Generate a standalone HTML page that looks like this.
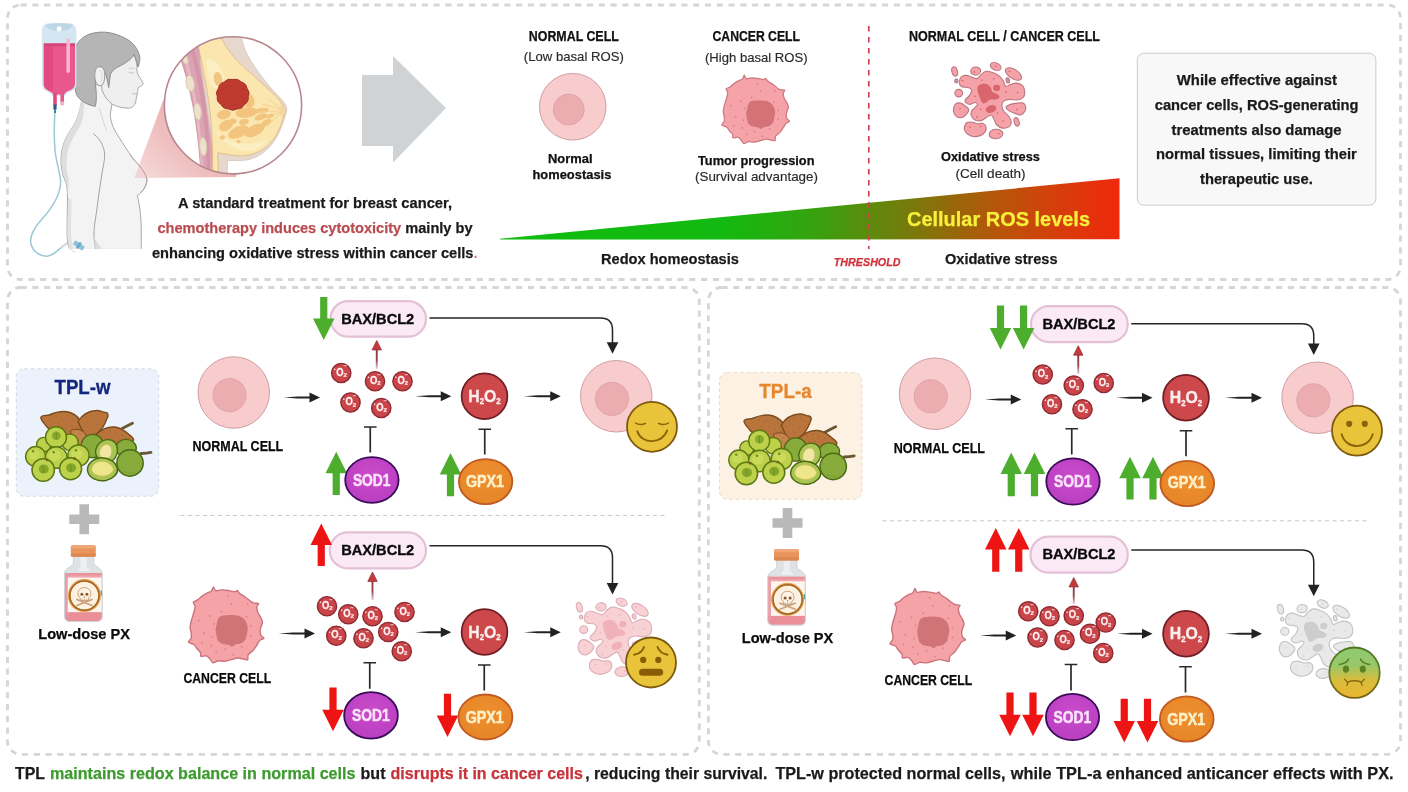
<!DOCTYPE html>
<html lang="en">
<head>
<meta charset="utf-8">
<title>TPL redox balance graphical abstract</title>
<style>
html,body{margin:0;padding:0;background:#fff;}
body{width:1408px;height:792px;overflow:hidden;font-family:"Liberation Sans",sans-serif;}
svg{display:block;}
svg text{font-family:"Liberation Sans",sans-serif;}
</style>
</head>
<body>
<svg width="1408" height="792" viewBox="0 0 1408 792">
<rect width="1408" height="792" fill="#ffffff"/>

<defs>
  <linearGradient id="ros" gradientUnits="userSpaceOnUse" x1="500" y1="0" x2="1119.5" y2="0">
    <stop offset="0" stop-color="#10bd10"/>
    <stop offset="0.36" stop-color="#13b910"/>
    <stop offset="0.5" stop-color="#34a40e"/>
    <stop offset="0.6" stop-color="#5e8a0c"/>
    <stop offset="0.7" stop-color="#88700a"/>
    <stop offset="0.8" stop-color="#b6560a"/>
    <stop offset="0.9" stop-color="#d63e0c"/>
    <stop offset="1" stop-color="#f0280c"/>
  </linearGradient>
  <linearGradient id="beam" gradientUnits="userSpaceOnUse" x1="134" y1="180" x2="215" y2="95">
    <stop offset="0" stop-color="#f3cfcf" stop-opacity="0.75"/>
    <stop offset="0.45" stop-color="#eebbbb" stop-opacity="0.95"/>
    <stop offset="1" stop-color="#e5a0a0"/>
  </linearGradient>
  <linearGradient id="redup" x1="0" y1="0" x2="0" y2="1">
    <stop offset="0" stop-color="#8e3540"/>
    <stop offset="0.6" stop-color="#9a4450"/>
    <stop offset="1" stop-color="#c08890" stop-opacity="0.5"/>
  </linearGradient>
  <linearGradient id="blk" x1="0" y1="0" x2="1" y2="0">
    <stop offset="0" stop-color="#222" stop-opacity="0.35"/>
    <stop offset="0.35" stop-color="#222" stop-opacity="1"/>
    <stop offset="1" stop-color="#222"/>
  </linearGradient>
  <radialGradient id="sod" cx="0.5" cy="0.4" r="0.7">
    <stop offset="0" stop-color="#cb4ccb"/>
    <stop offset="1" stop-color="#b63cc0"/>
  </radialGradient>
  <radialGradient id="gpx" cx="0.5" cy="0.4" r="0.7">
    <stop offset="0" stop-color="#ee8f2e"/>
    <stop offset="1" stop-color="#e58428"/>
  </radialGradient>
  <linearGradient id="sick" x1="0" y1="0" x2="0" y2="1">
    <stop offset="0" stop-color="#8fc872"/>
    <stop offset="0.35" stop-color="#97c86a"/>
    <stop offset="0.65" stop-color="#d8bc3c"/>
    <stop offset="1" stop-color="#ecb530"/>
  </linearGradient>
  <linearGradient id="sickst" x1="0" y1="0" x2="0" y2="1"><stop offset="0" stop-color="#4f7a22"/><stop offset="0.5" stop-color="#5f7a22"/><stop offset="1" stop-color="#7a6414"/></linearGradient>
  <clipPath id="breastclip"><circle cx="233" cy="105.3" r="68.3"/></clipPath>
</defs>

<rect x="7.5" y="5" width="1393.0" height="274.5" rx="13" ry="13" fill="none" stroke="#d6d6d6" stroke-width="2.8" stroke-dasharray="6.2 5.6"/>
<rect x="7.5" y="287.5" width="691.8" height="466.79999999999995" rx="13" ry="13" fill="none" stroke="#d6d6d6" stroke-width="2.8" stroke-dasharray="6.2 5.6"/>
<rect x="708.4" y="287.5" width="692.1" height="466.79999999999995" rx="13" ry="13" fill="none" stroke="#d6d6d6" stroke-width="2.8" stroke-dasharray="6.2 5.6"/>
<polygon points="362,75 393,75 393,56 446,108 393,162.5 393,146 362,146" fill="#cfd3d6"/>
<polygon points="500,238.8 1119.5,178.2 1119.5,239.2 500,239.6" fill="url(#ros)"/>
<line x1="868.8" y1="26" x2="868.8" y2="249" stroke="#d0424f" stroke-width="1.7" stroke-dasharray="5.4 5.6"/>
<text x="907.00" y="226.30" font-size="20.6" font-weight="bold" fill="#f7ef3a" textLength="183.00" lengthAdjust="spacingAndGlyphs" stroke="#f7ef3a" stroke-width="0.25">Cellular ROS levels</text>
<text x="601.00" y="264.00" font-size="15.45" font-weight="bold" fill="#1a1a1a" textLength="137.80" lengthAdjust="spacingAndGlyphs" stroke="#1a1a1a" stroke-width="0.25">Redox homeostasis</text>
<text x="833.80" y="265.80" font-size="10.61" font-weight="bold" font-style="italic" fill="#d2323c" textLength="66.70" lengthAdjust="spacingAndGlyphs" stroke="#d2323c" stroke-width="0.25">THRESHOLD</text>
<text x="945.00" y="263.80" font-size="15.45" font-weight="bold" fill="#1a1a1a" textLength="112.50" lengthAdjust="spacingAndGlyphs" stroke="#1a1a1a" stroke-width="0.25">Oxidative stress</text>
<text x="528.80" y="40.80" font-size="13.8" font-weight="bold" fill="#111" textLength="90.00" lengthAdjust="spacingAndGlyphs" stroke="#111" stroke-width="0.25">NORMAL CELL</text>
<text x="523.80" y="61.00" font-size="12.36" font-weight="normal" fill="#2a2a2a" textLength="100.00" lengthAdjust="spacingAndGlyphs" stroke="#2a2a2a" stroke-width="0.15">(Low basal ROS)</text>
<text x="712.50" y="40.80" font-size="13.8" font-weight="bold" fill="#111" textLength="87.50" lengthAdjust="spacingAndGlyphs" stroke="#111" stroke-width="0.25">CANCER CELL</text>
<text x="705.00" y="62.00" font-size="12.36" font-weight="normal" fill="#2a2a2a" textLength="102.50" lengthAdjust="spacingAndGlyphs" stroke="#2a2a2a" stroke-width="0.15">(High basal ROS)</text>
<text x="909.00" y="40.80" font-size="13.8" font-weight="bold" fill="#111" textLength="191.00" lengthAdjust="spacingAndGlyphs" stroke="#111" stroke-width="0.25">NORMAL CELL / CANCER CELL</text>
<text x="548.00" y="162.50" font-size="12.36" font-weight="bold" fill="#111" textLength="44.50" lengthAdjust="spacingAndGlyphs" stroke="#111" stroke-width="0.25">Normal</text>
<text x="532.50" y="179.00" font-size="12.36" font-weight="bold" fill="#111" textLength="78.80" lengthAdjust="spacingAndGlyphs" stroke="#111" stroke-width="0.25">homeostasis</text>
<text x="698.00" y="165.00" font-size="12.36" font-weight="bold" fill="#111" textLength="116.50" lengthAdjust="spacingAndGlyphs" stroke="#111" stroke-width="0.25">Tumor progression</text>
<text x="695.00" y="181.00" font-size="12.36" font-weight="normal" fill="#2a2a2a" textLength="123.00" lengthAdjust="spacingAndGlyphs" stroke="#2a2a2a" stroke-width="0.15">(Survival advantage)</text>
<text x="941.00" y="161.00" font-size="12.36" font-weight="bold" fill="#111" textLength="99.00" lengthAdjust="spacingAndGlyphs" stroke="#111" stroke-width="0.25">Oxidative stress</text>
<text x="955.50" y="178.00" font-size="12.36" font-weight="normal" fill="#2a2a2a" textLength="70.00" lengthAdjust="spacingAndGlyphs" stroke="#2a2a2a" stroke-width="0.15">(Cell death)</text>
<text x="178.00" y="208.30" font-size="15.45" font-weight="bold" fill="#1a1a1a" textLength="274.00" lengthAdjust="spacingAndGlyphs" stroke="#1a1a1a" stroke-width="0.25">A standard treatment for breast cancer,</text>
<text x="157.5" y="233" font-size="15.45" font-weight="bold" fill="#1a1a1a" stroke="#1a1a1a" stroke-width="0.25" textLength="315" lengthAdjust="spacingAndGlyphs"><tspan fill="#b94c51" stroke="#b94c51">chemotherapy induces cytotoxicity</tspan> mainly by</text>
<text x="152" y="258" font-size="15.45" font-weight="bold" fill="#1a1a1a" stroke="#1a1a1a" stroke-width="0.25" textLength="325.5" lengthAdjust="spacingAndGlyphs">enhancing oxidative stress within cancer cells<tspan fill="#cf7a80" stroke="none">.</tspan></text>
<rect x="1137.3" y="53.2" width="238.6" height="152" rx="6.5" ry="6.5" fill="#f8f8f8" stroke="#cbcbcb" stroke-width="1"/>
<text x="1176.80" y="85.00" font-size="14.63" font-weight="bold" fill="#1a1a1a" textLength="160.20" lengthAdjust="spacingAndGlyphs" stroke="#1a1a1a" stroke-width="0.25">While effective against</text>
<text x="1154.80" y="110.00" font-size="14.63" font-weight="bold" fill="#1a1a1a" textLength="203.70" lengthAdjust="spacingAndGlyphs" stroke="#1a1a1a" stroke-width="0.25">cancer cells, ROS-generating</text>
<text x="1171.50" y="134.50" font-size="14.63" font-weight="bold" fill="#1a1a1a" textLength="170.00" lengthAdjust="spacingAndGlyphs" stroke="#1a1a1a" stroke-width="0.25">treatments also damage</text>
<text x="1156.00" y="159.00" font-size="14.63" font-weight="bold" fill="#1a1a1a" textLength="200.80" lengthAdjust="spacingAndGlyphs" stroke="#1a1a1a" stroke-width="0.25">normal tissues, limiting their</text>
<text x="1200.00" y="183.80" font-size="14.63" font-weight="bold" fill="#1a1a1a" textLength="112.80" lengthAdjust="spacingAndGlyphs" stroke="#1a1a1a" stroke-width="0.25">therapeutic use.</text>
<text x="15.00" y="778.80" font-size="17.0" font-weight="bold" fill="#1a1a1a" textLength="30.00" lengthAdjust="spacingAndGlyphs" stroke="#1a1a1a" stroke-width="0.25">TPL</text>
<text x="50.00" y="778.80" font-size="17.0" font-weight="bold" fill="#3c9a2e" textLength="305.50" lengthAdjust="spacingAndGlyphs" stroke="#3c9a2e" stroke-width="0.25">maintains redox balance in normal cells</text>
<text x="360.50" y="778.80" font-size="17.0" font-weight="bold" fill="#1a1a1a" textLength="25.00" lengthAdjust="spacingAndGlyphs" stroke="#1a1a1a" stroke-width="0.25">but</text>
<text x="390.50" y="778.80" font-size="17.0" font-weight="bold" fill="#c8323a" textLength="192.40" lengthAdjust="spacingAndGlyphs" stroke="#c8323a" stroke-width="0.25">disrupts it in cancer cells</text>
<text x="585.20" y="778.80" font-size="17.0" font-weight="bold" fill="#1a1a1a" textLength="182.20" lengthAdjust="spacingAndGlyphs" stroke="#1a1a1a" stroke-width="0.25">, reducing their survival.</text>
<text x="775.40" y="778.80" font-size="17.0" font-weight="bold" fill="#1a1a1a" textLength="230.10" lengthAdjust="spacingAndGlyphs" stroke="#1a1a1a" stroke-width="0.25">TPL-w protected normal cells,</text>
<text x="1010.80" y="778.80" font-size="17.0" font-weight="bold" fill="#1a1a1a" textLength="382.80" lengthAdjust="spacingAndGlyphs" stroke="#1a1a1a" stroke-width="0.25">while TPL-a enhanced anticancer effects with PX.</text>
<circle cx="572.75" cy="106.75" r="33.3" fill="#f8cbcd" stroke="#cf9ea4" stroke-width="1"/><circle cx="568.74" cy="109.55" r="15.45" fill="#ecadb0" stroke="#dba0a4" stroke-width="0.8"/>
<g transform="translate(755.5,109.4) scale(0.9)"><path d="M-12.49,-38.00 C-11.88,-38.08 -11.45,-34.61 -10.31,-34.20 C-9.17,-33.79 -6.09,-35.04 -4.34,-35.07 C-2.60,-35.10 0.35,-34.69 2.17,-34.42 C4.00,-34.15 7.39,-33.12 8.69,-33.12 C9.98,-33.12 10.72,-34.65 11.40,-34.42 C12.08,-34.19 12.43,-32.43 13.57,-31.49 C14.71,-30.55 17.95,-28.83 19.54,-27.69 C21.14,-26.55 23.76,-24.18 24.97,-23.34 C26.19,-22.51 27.17,-21.99 28.23,-21.72 C29.29,-21.44 32.19,-21.85 32.57,-21.39 C32.95,-20.93 31.10,-19.55 30.94,-18.46 C30.79,-17.36 31.11,-14.86 31.49,-13.57 C31.87,-12.28 33.05,-10.37 33.66,-9.23 C34.27,-8.09 35.45,-6.49 35.83,-5.43 C36.21,-4.36 36.53,-2.77 36.37,-1.63 C36.22,-0.49 35.05,1.50 34.74,2.71 C34.44,3.93 34.13,5.92 34.20,7.06 C34.28,8.20 34.76,9.98 35.29,10.86 C35.82,11.74 38.15,12.75 38.00,13.36 C37.85,13.96 35.19,14.26 34.20,15.20 C33.21,16.14 31.93,18.64 30.94,20.09 C29.96,21.53 28.36,24.15 27.14,25.52 C25.93,26.88 23.02,28.57 22.26,29.86 C21.50,31.15 22.32,34.14 21.72,34.74 C21.11,35.35 19.28,34.43 17.92,34.20 C16.55,33.97 13.69,33.04 11.94,33.12 C10.20,33.19 7.25,34.29 5.43,34.74 C3.60,35.20 0.74,36.22 -1.09,36.37 C-2.91,36.53 -5.93,35.60 -7.60,35.83 C-9.27,36.06 -11.89,38.23 -13.03,38.00 C-14.17,37.77 -14.83,35.19 -15.74,34.20 C-16.66,33.21 -18.25,31.32 -19.54,30.94 C-20.84,30.56 -24.14,31.94 -24.97,31.49 C-25.81,31.03 -24.91,28.83 -25.52,27.69 C-26.12,26.55 -28.40,24.48 -29.32,23.34 C-30.23,22.20 -30.89,20.38 -32.03,19.54 C-33.17,18.71 -37.08,18.28 -37.46,17.37 C-37.84,16.46 -35.12,14.32 -34.74,13.03 C-34.36,11.74 -34.59,9.59 -34.74,8.14 C-34.90,6.70 -35.83,4.39 -35.83,2.71 C-35.83,1.04 -35.12,-2.13 -34.74,-3.80 C-34.36,-5.47 -33.57,-7.71 -33.12,-9.23 C-32.66,-10.75 -31.79,-13.29 -31.49,-14.66 C-31.18,-16.03 -30.79,-17.86 -30.94,-19.00 C-31.10,-20.14 -32.95,-21.97 -32.57,-22.80 C-32.19,-23.64 -29.45,-24.14 -28.23,-24.97 C-27.01,-25.81 -25.26,-27.79 -23.89,-28.77 C-22.52,-29.76 -19.75,-31.35 -18.46,-32.03 C-17.17,-32.71 -15.49,-32.82 -14.66,-33.66 C-13.82,-34.50 -13.09,-37.93 -12.49,-38.00 Z" fill="#f5a3a8" stroke="#cd7780" stroke-width="1.4" stroke-linejoin="round"/><circle cx="2.17" cy="-28.77" r="0.95" fill="#e07c85"/><circle cx="5.43" cy="-20.63" r="0.95" fill="#e07c85"/><circle cx="21.72" cy="-20.63" r="0.95" fill="#e07c85"/><circle cx="-4.34" cy="-13.36" r="0.95" fill="#e07c85"/><circle cx="-16.29" cy="-9.01" r="0.95" fill="#e07c85"/><circle cx="20.63" cy="-8.14" r="0.95" fill="#e07c85"/><circle cx="-27.14" cy="-4.34" r="0.95" fill="#e07c85"/><circle cx="-11.94" cy="-1.09" r="0.95" fill="#e07c85"/><circle cx="24.97" cy="1.09" r="0.95" fill="#e07c85"/><circle cx="-22.26" cy="8.14" r="0.95" fill="#e07c85"/><circle cx="-13.57" cy="11.94" r="0.95" fill="#e07c85"/><circle cx="24.97" cy="10.86" r="0.95" fill="#e07c85"/><circle cx="-23.89" cy="17.92" r="0.95" fill="#e07c85"/><circle cx="-14.66" cy="20.63" r="0.95" fill="#e07c85"/><circle cx="15.74" cy="21.72" r="0.95" fill="#e07c85"/><circle cx="-1.09" cy="24.43" r="0.95" fill="#e07c85"/><circle cx="-9.77" cy="27.69" r="0.95" fill="#e07c85"/><circle cx="7.60" cy="29.86" r="0.95" fill="#e07c85"/><path d="M-8.14,-5.43 C-7.51,-6.79 -6.97,-7.96 -5.43,-8.69 C-3.89,-9.41 -1.27,-9.59 1.09,-9.77 C3.44,-9.95 6.51,-9.95 8.69,-9.77 C10.86,-9.59 12.49,-9.41 14.12,-8.69 C15.74,-7.96 17.28,-6.79 18.46,-5.43 C19.63,-4.07 20.63,-2.26 21.17,-0.54 C21.72,1.18 21.81,3.08 21.72,4.89 C21.63,6.70 20.99,8.69 20.63,10.31 C20.27,11.94 20.45,13.30 19.54,14.66 C18.64,16.02 16.83,17.64 15.20,18.46 C13.57,19.27 11.31,19.00 9.77,19.54 C8.23,20.09 7.06,21.63 5.97,21.72 C4.89,21.81 4.80,20.54 3.26,20.09 C1.72,19.63 -1.45,19.63 -3.26,19.00 C-5.07,18.37 -6.61,17.55 -7.60,16.29 C-8.60,15.02 -8.78,13.30 -9.23,11.40 C-9.68,9.50 -10.31,6.88 -10.31,4.89 C-10.31,2.90 -9.59,1.18 -9.23,-0.54 C-8.87,-2.26 -8.78,-4.07 -8.14,-5.43 Z" fill="#d37378"/></g>
<g transform="translate(989.4,100) scale(1.0)" stroke-linejoin="round"><ellipse cx="-34.75" cy="-28.50" rx="2.75" ry="4.75" transform="rotate(-15 -34.75 -28.50)" fill="#f5a1a8" stroke="#bb7680" stroke-width="1.1"/><ellipse cx="-13.75" cy="-29.00" rx="5.00" ry="4.00" transform="rotate(-8 -13.75 -29.00)" fill="#f5a1a8" stroke="#bb7680" stroke-width="1.1"/><ellipse cx="6.25" cy="-33.50" rx="5.62" ry="3.62" transform="rotate(25 6.25 -33.50)" fill="#f5a1a8" stroke="#bb7680" stroke-width="1.1"/><ellipse cx="24.12" cy="-26.00" rx="9.12" ry="4.62" transform="rotate(33 24.12 -26.00)" fill="#f5a1a8" stroke="#bb7680" stroke-width="1.1"/><ellipse cx="-33.12" cy="-19.00" rx="1.62" ry="1.88" transform="rotate(0 -33.12 -19.00)" fill="#c99aa2" stroke="#bb7680" stroke-width="1.1"/><ellipse cx="18.38" cy="-19.62" rx="1.75" ry="2.62" transform="rotate(-10 18.38 -19.62)" fill="#c99aa2" stroke="#bb7680" stroke-width="1.1"/><ellipse cx="-30.62" cy="-6.88" rx="3.88" ry="3.75" transform="rotate(0 -30.62 -6.88)" fill="#f5a1a8" stroke="#bb7680" stroke-width="1.1"/><ellipse cx="6.62" cy="34.00" rx="6.88" ry="4.75" transform="rotate(-5 6.62 34.00)" fill="#f5a1a8" stroke="#bb7680" stroke-width="1.1"/><ellipse cx="27.25" cy="21.88" rx="2.38" ry="4.38" transform="rotate(-18 27.25 21.88)" fill="#f5a1a8" stroke="#bb7680" stroke-width="1.1"/><path d="M-35.88,8.75 C-35.60,7.23 -34.94,4.94 -33.75,4.00 C-32.56,3.06 -30.42,2.75 -28.75,3.12 C-27.08,3.50 -25.10,5.15 -23.75,6.25 C-22.40,7.35 -20.73,8.40 -20.62,9.75 C-20.52,11.10 -21.98,13.08 -23.12,14.38 C-24.27,15.67 -25.94,17.08 -27.50,17.50 C-29.06,17.92 -31.19,17.60 -32.50,16.88 C-33.81,16.15 -34.81,14.48 -35.38,13.12 C-35.94,11.77 -36.15,10.27 -35.88,8.75 Z" fill="#f5a1a8" stroke="#bb7680" stroke-width="1.1"/><path d="M-25.00,26.88 C-24.65,25.52 -23.85,23.27 -22.50,22.50 C-21.15,21.73 -18.65,22.04 -16.88,22.25 C-15.10,22.46 -13.65,23.54 -11.88,23.75 C-10.10,23.96 -7.67,22.98 -6.25,23.50 C-4.83,24.02 -3.69,25.48 -3.38,26.88 C-3.06,28.27 -3.38,30.42 -4.38,31.88 C-5.38,33.33 -7.40,34.85 -9.38,35.62 C-11.35,36.40 -14.17,36.77 -16.25,36.50 C-18.33,36.23 -20.48,34.98 -21.88,34.00 C-23.27,33.02 -24.10,31.81 -24.62,30.62 C-25.15,29.44 -25.35,28.23 -25.00,26.88 Z" fill="#f5a1a8" stroke="#bb7680" stroke-width="1.1"/><path d="M16.62,6.88 C16.94,5.83 19.33,5.00 21.25,4.38 C23.17,3.75 26.04,3.33 28.12,3.12 C30.21,2.92 32.40,2.50 33.75,3.12 C35.10,3.75 36.04,5.42 36.25,6.88 C36.46,8.33 35.94,10.52 35.00,11.88 C34.06,13.23 32.29,14.79 30.62,15.00 C28.96,15.21 26.88,13.85 25.00,13.12 C23.12,12.40 20.77,11.67 19.38,10.62 C17.98,9.58 16.31,7.92 16.62,6.88 Z" fill="#f5a1a8" stroke="#bb7680" stroke-width="1.1"/><path d="M-30.00,-18.75 C-29.73,-20.00 -29.27,-22.15 -28.12,-23.12 C-26.98,-24.10 -25.00,-24.73 -23.12,-24.62 C-21.25,-24.52 -18.75,-23.02 -16.88,-22.50 C-15.00,-21.98 -13.33,-20.98 -11.88,-21.50 C-10.42,-22.02 -9.58,-24.42 -8.12,-25.62 C-6.67,-26.83 -5.00,-28.44 -3.12,-28.75 C-1.25,-29.06 1.04,-28.23 3.12,-27.50 C5.21,-26.77 7.60,-25.73 9.38,-24.38 C11.15,-23.02 12.60,-21.15 13.75,-19.38 C14.90,-17.60 15.10,-14.44 16.25,-13.75 C17.40,-13.06 18.85,-14.73 20.62,-15.25 C22.40,-15.77 24.79,-17.02 26.88,-16.88 C28.96,-16.73 31.71,-15.83 33.12,-14.38 C34.54,-12.92 35.27,-10.10 35.38,-8.12 C35.48,-6.15 34.96,-3.85 33.75,-2.50 C32.54,-1.15 30.31,-0.31 28.12,0.00 C25.94,0.31 22.81,-0.73 20.62,-0.62 C18.44,-0.52 16.35,-0.31 15.00,0.62 C13.65,1.56 12.60,3.23 12.50,5.00 C12.40,6.77 13.23,9.38 14.38,11.25 C15.52,13.12 18.12,14.38 19.38,16.25 C20.62,18.12 21.88,20.73 21.88,22.50 C21.88,24.27 20.83,25.94 19.38,26.88 C17.92,27.81 15.10,28.44 13.12,28.12 C11.15,27.81 8.96,26.56 7.50,25.00 C6.04,23.44 5.31,20.42 4.38,18.75 C3.44,17.08 3.12,15.21 1.88,15.00 C0.62,14.79 -1.46,16.56 -3.12,17.50 C-4.79,18.44 -6.25,20.21 -8.12,20.62 C-10.00,21.04 -12.71,20.83 -14.38,20.00 C-16.04,19.17 -17.54,17.08 -18.12,15.62 C-18.71,14.17 -18.50,12.60 -17.88,11.25 C-17.25,9.90 -15.38,8.65 -14.38,7.50 C-13.38,6.35 -11.88,5.21 -11.88,4.38 C-11.88,3.54 -13.12,2.50 -14.38,2.50 C-15.62,2.50 -17.81,4.38 -19.38,4.38 C-20.94,4.38 -23.02,3.33 -23.75,2.50 C-24.48,1.67 -24.38,0.52 -23.75,-0.62 C-23.12,-1.77 -20.98,-2.81 -20.00,-4.38 C-19.02,-5.94 -17.67,-8.65 -17.88,-10.00 C-18.08,-11.35 -19.75,-11.98 -21.25,-12.50 C-22.75,-13.02 -25.46,-12.60 -26.88,-13.12 C-28.29,-13.65 -29.23,-14.69 -29.75,-15.62 C-30.27,-16.56 -30.27,-17.50 -30.00,-18.75 Z" fill="#f5a1a8" stroke="#bb7680" stroke-width="1.1"/><path d="M-11.88,-12.50 C-11.56,-13.96 -10.83,-15.04 -9.38,-15.62 C-7.92,-16.21 -4.90,-16.52 -3.12,-16.00 C-1.35,-15.48 0.21,-13.81 1.25,-12.50 C2.29,-11.19 2.08,-9.17 3.12,-8.12 C4.17,-7.08 6.35,-7.08 7.50,-6.25 C8.65,-5.42 10.10,-4.06 10.00,-3.12 C9.90,-2.19 8.44,-1.10 6.88,-0.62 C5.31,-0.15 2.29,-0.77 0.62,-0.25 C-1.04,0.27 -1.88,1.94 -3.12,2.50 C-4.38,3.06 -5.83,3.85 -6.88,3.12 C-7.92,2.40 -8.65,-0.21 -9.38,-1.88 C-10.10,-3.54 -10.83,-5.10 -11.25,-6.88 C-11.67,-8.65 -12.19,-11.04 -11.88,-12.50 Z" fill="#d9666f"/><ellipse cx="7.25" cy="-12.1" rx="3.5" ry="3.1" fill="#d9666f"/><ellipse cx="1.6" cy="9" rx="5.4" ry="3.8" transform="rotate(-18 1.6 9)" fill="#d9666f"/><circle cx="-15.00" cy="-28.12" r="0.85" fill="#e0646f"/><circle cx="6.25" cy="-33.75" r="0.85" fill="#e0646f"/><circle cx="20.00" cy="-28.75" r="0.85" fill="#e0646f"/><circle cx="28.12" cy="-7.50" r="0.85" fill="#e0646f"/><circle cx="27.50" cy="9.38" r="0.85" fill="#e0646f"/><circle cx="13.75" cy="21.00" r="0.85" fill="#e0646f"/><circle cx="9.38" cy="33.50" r="0.85" fill="#e0646f"/><circle cx="-19.38" cy="27.25" r="0.85" fill="#e0646f"/><circle cx="-8.75" cy="26.50" r="0.85" fill="#e0646f"/><circle cx="-29.38" cy="8.75" r="0.85" fill="#e0646f"/><circle cx="-12.50" cy="16.88" r="0.85" fill="#e0646f"/><circle cx="4.38" cy="-21.25" r="0.85" fill="#e0646f"/><circle cx="-7.50" cy="-20.00" r="0.85" fill="#e0646f"/><circle cx="-14.38" cy="-3.75" r="0.85" fill="#e0646f"/><circle cx="16.88" cy="-8.12" r="0.85" fill="#e0646f"/><circle cx="8.12" cy="13.12" r="0.85" fill="#e0646f"/><circle cx="-26.88" cy="-19.38" r="0.85" fill="#e0646f"/><circle cx="-8.75" cy="9.38" r="0.85" fill="#e0646f"/></g>
<circle cx="233.75" cy="392.5" r="35.75" fill="#f8cbcd" stroke="#cf9ea4" stroke-width="1"/><circle cx="229.50" cy="395.10" r="16.60" fill="#ecadb0" stroke="#dba0a4" stroke-width="0.8"/>
<text x="192.50" y="451.00" font-size="14.42" font-weight="bold" fill="#0a0a0a" textLength="90.75" lengthAdjust="spacingAndGlyphs" stroke="#0a0a0a" stroke-width="0.25">NORMAL CELL</text>
<polygon points="283.75,397.5 297.75,396.6 310.5,396.5 310.5,398.5 297.75,398.4" fill="#222"/><polygon points="309.5,392.6 320,397.5 309.5,402.4" fill="#222"/>
<rect x="330.5" y="301.2" width="95.5" height="35.4" rx="17.7" ry="17.7" fill="#fbeaf6" stroke="#e3c0d6" stroke-width="2.2"/><text x="341.25" y="323.75" font-size="14.7" font-weight="bold" fill="#0a0a0a" textLength="73.00" lengthAdjust="spacingAndGlyphs" stroke="#0a0a0a" stroke-width="0.35">BAX/BCL2</text>
<polygon points="320.15,297 327.35,297 327.35,318.5 334.5,318.5 323.75,340 313.0,318.5 320.15,318.5" fill="#4cae2c"/>
<path d="M429.5,318 H600.5 Q612.5,318 612.5,330 V343.25" fill="none" stroke="#262626" stroke-width="1.5"/><polygon points="606.7,342.25 618.3,342.25 612.5,353.75" fill="#222"/>
<rect x="375.8" y="347.9" width="1.9" height="20.850000000000023" fill="url(#redup)"/><polygon points="372.05,349.9 376.75,340.5 381.45,349.9" fill="#c63a3c" stroke="#93303a" stroke-width="0.8" stroke-linejoin="round"/>
<g><circle cx="341.25" cy="373" r="9.65" fill="#c9454a" stroke="#8e2a30" stroke-width="1.4"/><text x="336.25" y="375.60" font-size="10.6" font-weight="bold" fill="#fff2f2" stroke="#fff2f2" stroke-width="0.3" textLength="7.3" lengthAdjust="spacingAndGlyphs">O</text><text x="343.55" y="377.20" font-size="5.9" font-weight="bold" fill="#fff2f2" stroke="#fff2f2" stroke-width="0.2">2</text><text x="333.75" y="371.00" font-size="5" font-weight="bold" fill="#fff2f2">&#8226;</text><text x="343.55" y="368.40" font-size="6" font-weight="bold" fill="#fff2f2">&#8722;</text></g>
<g><circle cx="375" cy="381.25" r="9.65" fill="#c9454a" stroke="#8e2a30" stroke-width="1.4"/><text x="370.00" y="383.85" font-size="10.6" font-weight="bold" fill="#fff2f2" stroke="#fff2f2" stroke-width="0.3" textLength="7.3" lengthAdjust="spacingAndGlyphs">O</text><text x="377.30" y="385.45" font-size="5.9" font-weight="bold" fill="#fff2f2" stroke="#fff2f2" stroke-width="0.2">2</text><text x="367.50" y="379.25" font-size="5" font-weight="bold" fill="#fff2f2">&#8226;</text><text x="377.30" y="376.65" font-size="6" font-weight="bold" fill="#fff2f2">&#8722;</text></g>
<g><circle cx="402.5" cy="381.25" r="9.65" fill="#c9454a" stroke="#8e2a30" stroke-width="1.4"/><text x="397.50" y="383.85" font-size="10.6" font-weight="bold" fill="#fff2f2" stroke="#fff2f2" stroke-width="0.3" textLength="7.3" lengthAdjust="spacingAndGlyphs">O</text><text x="404.80" y="385.45" font-size="5.9" font-weight="bold" fill="#fff2f2" stroke="#fff2f2" stroke-width="0.2">2</text><text x="395.00" y="379.25" font-size="5" font-weight="bold" fill="#fff2f2">&#8226;</text><text x="404.80" y="376.65" font-size="6" font-weight="bold" fill="#fff2f2">&#8722;</text></g>
<g><circle cx="350.5" cy="402.5" r="9.65" fill="#c9454a" stroke="#8e2a30" stroke-width="1.4"/><text x="345.50" y="405.10" font-size="10.6" font-weight="bold" fill="#fff2f2" stroke="#fff2f2" stroke-width="0.3" textLength="7.3" lengthAdjust="spacingAndGlyphs">O</text><text x="352.80" y="406.70" font-size="5.9" font-weight="bold" fill="#fff2f2" stroke="#fff2f2" stroke-width="0.2">2</text><text x="343.00" y="400.50" font-size="5" font-weight="bold" fill="#fff2f2">&#8226;</text><text x="352.80" y="397.90" font-size="6" font-weight="bold" fill="#fff2f2">&#8722;</text></g>
<g><circle cx="381.25" cy="408" r="9.65" fill="#c9454a" stroke="#8e2a30" stroke-width="1.4"/><text x="376.25" y="410.60" font-size="10.6" font-weight="bold" fill="#fff2f2" stroke="#fff2f2" stroke-width="0.3" textLength="7.3" lengthAdjust="spacingAndGlyphs">O</text><text x="383.55" y="412.20" font-size="5.9" font-weight="bold" fill="#fff2f2" stroke="#fff2f2" stroke-width="0.2">2</text><text x="373.75" y="406.00" font-size="5" font-weight="bold" fill="#fff2f2">&#8226;</text><text x="383.55" y="403.40" font-size="6" font-weight="bold" fill="#fff2f2">&#8722;</text></g>
<polygon points="415,396.25 429,395.35 441.75,395.25 441.75,397.25 429,397.15" fill="#222"/><polygon points="440.75,391.35 451.25,396.25 440.75,401.15" fill="#222"/>
<circle cx="484.5" cy="396.25" r="22.9" fill="#cc484b" stroke="#701e24" stroke-width="1.7"/><text x="468.30" y="401.85" font-size="17" font-weight="bold" fill="#fdeeee" stroke="#fdeeee" stroke-width="0.35" textLength="32.4" lengthAdjust="spacingAndGlyphs">H<tspan font-size="8.4" dy="2.3">2</tspan><tspan dy="-2.3">O</tspan><tspan font-size="8.4" dy="2.3">2</tspan></text>
<polygon points="523.75,396.25 537.75,395.35 551.25,395.25 551.25,397.25 537.75,397.15" fill="#222"/><polygon points="550.25,391.35 560.75,396.25 550.25,401.15" fill="#222"/>
<circle cx="616.25" cy="396.25" r="35.75" fill="#f8cbcd" stroke="#cf9ea4" stroke-width="1"/><circle cx="612.00" cy="398.85" r="16.60" fill="#ecadb0" stroke="#dba0a4" stroke-width="0.8"/>
<g><circle cx="652" cy="426.8" r="25.0" fill="#e9c33a" stroke="#7c5a0e" stroke-width="1.8"/><g transform="translate(652,426.8)" fill="none" stroke="#8a6408" stroke-width="1.5" stroke-linecap="round"><path d="M-16.5,-3.6 Q-11.5,-1 -6.5,-3.4"/><path d="M6.5,-3.4 Q11.5,-1 16.5,-3.6"/><path d="M-14.8,4.3 C-10.5,17.8 10.5,17.8 15.2,3.5" stroke-width="1.9"/></g></g>
<path d="M363.95,427 H376.55 M370.25,427 V452.5" fill="none" stroke="#2a2a2a" stroke-width="1.7"/>
<path d="M478.45,429.25 H491.05 M484.75,429.25 V454.5" fill="none" stroke="#2a2a2a" stroke-width="1.7"/>
<polygon points="332.65,495 339.85,495 339.85,473.25 347.0,473.25 336.25,451.75 325.5,473.25 332.65,473.25" fill="#4cae2c"/>
<polygon points="446.9,496.25 454.1,496.25 454.1,474.5 461.25,474.5 450.5,453 439.75,474.5 446.9,474.5" fill="#4cae2c"/>
<ellipse cx="371.9" cy="480" rx="26.700000000000003" ry="22.85" fill="url(#sod)" stroke="#3b0c58" stroke-width="1.8"/><text x="352.90" y="485.50" font-size="16.3" font-weight="bold" fill="#fbe3fb" textLength="37.60" lengthAdjust="spacingAndGlyphs" stroke="#fbe3fb" stroke-width="0.5">SOD1</text>
<ellipse cx="485.6" cy="481.6" rx="26.700000000000003" ry="22.5" fill="url(#gpx)" stroke="#bf5a22" stroke-width="1.8"/><text x="466.00" y="487.00" font-size="16.3" font-weight="bold" fill="#fdf0c8" textLength="38.00" lengthAdjust="spacingAndGlyphs" stroke="#fdf0c8" stroke-width="0.5">GPX1</text>
<line x1="180.5" y1="515.5" x2="667" y2="515.5" stroke="#c9c9c9" stroke-width="1" stroke-dasharray="4 3.5"/>
<g transform="translate(225.95,624.9) scale(1.0)"><path d="M-12.49,-38.00 C-11.88,-38.08 -11.45,-34.61 -10.31,-34.20 C-9.17,-33.79 -6.09,-35.04 -4.34,-35.07 C-2.60,-35.10 0.35,-34.69 2.17,-34.42 C4.00,-34.15 7.39,-33.12 8.69,-33.12 C9.98,-33.12 10.72,-34.65 11.40,-34.42 C12.08,-34.19 12.43,-32.43 13.57,-31.49 C14.71,-30.55 17.95,-28.83 19.54,-27.69 C21.14,-26.55 23.76,-24.18 24.97,-23.34 C26.19,-22.51 27.17,-21.99 28.23,-21.72 C29.29,-21.44 32.19,-21.85 32.57,-21.39 C32.95,-20.93 31.10,-19.55 30.94,-18.46 C30.79,-17.36 31.11,-14.86 31.49,-13.57 C31.87,-12.28 33.05,-10.37 33.66,-9.23 C34.27,-8.09 35.45,-6.49 35.83,-5.43 C36.21,-4.36 36.53,-2.77 36.37,-1.63 C36.22,-0.49 35.05,1.50 34.74,2.71 C34.44,3.93 34.13,5.92 34.20,7.06 C34.28,8.20 34.76,9.98 35.29,10.86 C35.82,11.74 38.15,12.75 38.00,13.36 C37.85,13.96 35.19,14.26 34.20,15.20 C33.21,16.14 31.93,18.64 30.94,20.09 C29.96,21.53 28.36,24.15 27.14,25.52 C25.93,26.88 23.02,28.57 22.26,29.86 C21.50,31.15 22.32,34.14 21.72,34.74 C21.11,35.35 19.28,34.43 17.92,34.20 C16.55,33.97 13.69,33.04 11.94,33.12 C10.20,33.19 7.25,34.29 5.43,34.74 C3.60,35.20 0.74,36.22 -1.09,36.37 C-2.91,36.53 -5.93,35.60 -7.60,35.83 C-9.27,36.06 -11.89,38.23 -13.03,38.00 C-14.17,37.77 -14.83,35.19 -15.74,34.20 C-16.66,33.21 -18.25,31.32 -19.54,30.94 C-20.84,30.56 -24.14,31.94 -24.97,31.49 C-25.81,31.03 -24.91,28.83 -25.52,27.69 C-26.12,26.55 -28.40,24.48 -29.32,23.34 C-30.23,22.20 -30.89,20.38 -32.03,19.54 C-33.17,18.71 -37.08,18.28 -37.46,17.37 C-37.84,16.46 -35.12,14.32 -34.74,13.03 C-34.36,11.74 -34.59,9.59 -34.74,8.14 C-34.90,6.70 -35.83,4.39 -35.83,2.71 C-35.83,1.04 -35.12,-2.13 -34.74,-3.80 C-34.36,-5.47 -33.57,-7.71 -33.12,-9.23 C-32.66,-10.75 -31.79,-13.29 -31.49,-14.66 C-31.18,-16.03 -30.79,-17.86 -30.94,-19.00 C-31.10,-20.14 -32.95,-21.97 -32.57,-22.80 C-32.19,-23.64 -29.45,-24.14 -28.23,-24.97 C-27.01,-25.81 -25.26,-27.79 -23.89,-28.77 C-22.52,-29.76 -19.75,-31.35 -18.46,-32.03 C-17.17,-32.71 -15.49,-32.82 -14.66,-33.66 C-13.82,-34.50 -13.09,-37.93 -12.49,-38.00 Z" fill="#f5a3a7" stroke="#c8747d" stroke-width="1.4" stroke-linejoin="round"/><circle cx="2.17" cy="-28.77" r="0.95" fill="#e0808a"/><circle cx="5.43" cy="-20.63" r="0.95" fill="#e0808a"/><circle cx="21.72" cy="-20.63" r="0.95" fill="#e0808a"/><circle cx="-4.34" cy="-13.36" r="0.95" fill="#e0808a"/><circle cx="-16.29" cy="-9.01" r="0.95" fill="#e0808a"/><circle cx="20.63" cy="-8.14" r="0.95" fill="#e0808a"/><circle cx="-27.14" cy="-4.34" r="0.95" fill="#e0808a"/><circle cx="-11.94" cy="-1.09" r="0.95" fill="#e0808a"/><circle cx="24.97" cy="1.09" r="0.95" fill="#e0808a"/><circle cx="-22.26" cy="8.14" r="0.95" fill="#e0808a"/><circle cx="-13.57" cy="11.94" r="0.95" fill="#e0808a"/><circle cx="24.97" cy="10.86" r="0.95" fill="#e0808a"/><circle cx="-23.89" cy="17.92" r="0.95" fill="#e0808a"/><circle cx="-14.66" cy="20.63" r="0.95" fill="#e0808a"/><circle cx="15.74" cy="21.72" r="0.95" fill="#e0808a"/><circle cx="-1.09" cy="24.43" r="0.95" fill="#e0808a"/><circle cx="-9.77" cy="27.69" r="0.95" fill="#e0808a"/><circle cx="7.60" cy="29.86" r="0.95" fill="#e0808a"/><path d="M-8.14,-5.43 C-7.51,-6.79 -6.97,-7.96 -5.43,-8.69 C-3.89,-9.41 -1.27,-9.59 1.09,-9.77 C3.44,-9.95 6.51,-9.95 8.69,-9.77 C10.86,-9.59 12.49,-9.41 14.12,-8.69 C15.74,-7.96 17.28,-6.79 18.46,-5.43 C19.63,-4.07 20.63,-2.26 21.17,-0.54 C21.72,1.18 21.81,3.08 21.72,4.89 C21.63,6.70 20.99,8.69 20.63,10.31 C20.27,11.94 20.45,13.30 19.54,14.66 C18.64,16.02 16.83,17.64 15.20,18.46 C13.57,19.27 11.31,19.00 9.77,19.54 C8.23,20.09 7.06,21.63 5.97,21.72 C4.89,21.81 4.80,20.54 3.26,20.09 C1.72,19.63 -1.45,19.63 -3.26,19.00 C-5.07,18.37 -6.61,17.55 -7.60,16.29 C-8.60,15.02 -8.78,13.30 -9.23,11.40 C-9.68,9.50 -10.31,6.88 -10.31,4.89 C-10.31,2.90 -9.59,1.18 -9.23,-0.54 C-8.87,-2.26 -8.78,-4.07 -8.14,-5.43 Z" fill="#d17477"/></g>
<text x="183.40" y="682.80" font-size="14.42" font-weight="bold" fill="#0a0a0a" textLength="87.80" lengthAdjust="spacingAndGlyphs" stroke="#0a0a0a" stroke-width="0.25">CANCER CELL</text>
<polygon points="278.75,633.5 292.75,632.6 305.5,632.5 305.5,634.5 292.75,634.4" fill="#222"/><polygon points="304.5,628.6 315,633.5 304.5,638.4" fill="#222"/>
<rect x="329.75" y="532.45" width="96.25" height="35.9" rx="17.95" ry="17.95" fill="#fbeaf6" stroke="#e3c0d6" stroke-width="2.2"/><text x="341.25" y="555.00" font-size="14.7" font-weight="bold" fill="#0a0a0a" textLength="73.00" lengthAdjust="spacingAndGlyphs" stroke="#0a0a0a" stroke-width="0.35">BAX/BCL2</text>
<polygon points="317.65,566 324.85,566 324.85,545.0 332.0,545.0 321.25,523.5 310.5,545.0 317.65,545.0" fill="#ee1414"/>
<path d="M429.5,545.75 H600.5 Q612.5,545.75 612.5,557.75 V584.0" fill="none" stroke="#262626" stroke-width="1.5"/><polygon points="606.7,583.0 618.3,583.0 612.5,594.5" fill="#222"/>
<rect x="371.55" y="579.4" width="1.9" height="20.600000000000023" fill="url(#redup)"/><polygon points="367.8,581.4 372.5,572.0 377.2,581.4" fill="#c63a3c" stroke="#93303a" stroke-width="0.8" stroke-linejoin="round"/>
<g><circle cx="327" cy="606.25" r="9.65" fill="#c9454a" stroke="#8e2a30" stroke-width="1.4"/><text x="322.00" y="608.85" font-size="10.6" font-weight="bold" fill="#fff2f2" stroke="#fff2f2" stroke-width="0.3" textLength="7.3" lengthAdjust="spacingAndGlyphs">O</text><text x="329.30" y="610.45" font-size="5.9" font-weight="bold" fill="#fff2f2" stroke="#fff2f2" stroke-width="0.2">2</text><text x="319.50" y="604.25" font-size="5" font-weight="bold" fill="#fff2f2">&#8226;</text><text x="329.30" y="601.65" font-size="6" font-weight="bold" fill="#fff2f2">&#8722;</text></g>
<g><circle cx="348.25" cy="614.25" r="9.65" fill="#c9454a" stroke="#8e2a30" stroke-width="1.4"/><text x="343.25" y="616.85" font-size="10.6" font-weight="bold" fill="#fff2f2" stroke="#fff2f2" stroke-width="0.3" textLength="7.3" lengthAdjust="spacingAndGlyphs">O</text><text x="350.55" y="618.45" font-size="5.9" font-weight="bold" fill="#fff2f2" stroke="#fff2f2" stroke-width="0.2">2</text><text x="340.75" y="612.25" font-size="5" font-weight="bold" fill="#fff2f2">&#8226;</text><text x="350.55" y="609.65" font-size="6" font-weight="bold" fill="#fff2f2">&#8722;</text></g>
<g><circle cx="372.5" cy="616.25" r="9.65" fill="#c9454a" stroke="#8e2a30" stroke-width="1.4"/><text x="367.50" y="618.85" font-size="10.6" font-weight="bold" fill="#fff2f2" stroke="#fff2f2" stroke-width="0.3" textLength="7.3" lengthAdjust="spacingAndGlyphs">O</text><text x="374.80" y="620.45" font-size="5.9" font-weight="bold" fill="#fff2f2" stroke="#fff2f2" stroke-width="0.2">2</text><text x="365.00" y="614.25" font-size="5" font-weight="bold" fill="#fff2f2">&#8226;</text><text x="374.80" y="611.65" font-size="6" font-weight="bold" fill="#fff2f2">&#8722;</text></g>
<g><circle cx="404.5" cy="612" r="9.65" fill="#c9454a" stroke="#8e2a30" stroke-width="1.4"/><text x="399.50" y="614.60" font-size="10.6" font-weight="bold" fill="#fff2f2" stroke="#fff2f2" stroke-width="0.3" textLength="7.3" lengthAdjust="spacingAndGlyphs">O</text><text x="406.80" y="616.20" font-size="5.9" font-weight="bold" fill="#fff2f2" stroke="#fff2f2" stroke-width="0.2">2</text><text x="397.00" y="610.00" font-size="5" font-weight="bold" fill="#fff2f2">&#8226;</text><text x="406.80" y="607.40" font-size="6" font-weight="bold" fill="#fff2f2">&#8722;</text></g>
<g><circle cx="336.25" cy="635.75" r="9.65" fill="#c9454a" stroke="#8e2a30" stroke-width="1.4"/><text x="331.25" y="638.35" font-size="10.6" font-weight="bold" fill="#fff2f2" stroke="#fff2f2" stroke-width="0.3" textLength="7.3" lengthAdjust="spacingAndGlyphs">O</text><text x="338.55" y="639.95" font-size="5.9" font-weight="bold" fill="#fff2f2" stroke="#fff2f2" stroke-width="0.2">2</text><text x="328.75" y="633.75" font-size="5" font-weight="bold" fill="#fff2f2">&#8226;</text><text x="338.55" y="631.15" font-size="6" font-weight="bold" fill="#fff2f2">&#8722;</text></g>
<g><circle cx="363.5" cy="638.25" r="9.65" fill="#c9454a" stroke="#8e2a30" stroke-width="1.4"/><text x="358.50" y="640.85" font-size="10.6" font-weight="bold" fill="#fff2f2" stroke="#fff2f2" stroke-width="0.3" textLength="7.3" lengthAdjust="spacingAndGlyphs">O</text><text x="365.80" y="642.45" font-size="5.9" font-weight="bold" fill="#fff2f2" stroke="#fff2f2" stroke-width="0.2">2</text><text x="356.00" y="636.25" font-size="5" font-weight="bold" fill="#fff2f2">&#8226;</text><text x="365.80" y="633.65" font-size="6" font-weight="bold" fill="#fff2f2">&#8722;</text></g>
<g><circle cx="388.25" cy="632" r="9.65" fill="#c9454a" stroke="#8e2a30" stroke-width="1.4"/><text x="383.25" y="634.60" font-size="10.6" font-weight="bold" fill="#fff2f2" stroke="#fff2f2" stroke-width="0.3" textLength="7.3" lengthAdjust="spacingAndGlyphs">O</text><text x="390.55" y="636.20" font-size="5.9" font-weight="bold" fill="#fff2f2" stroke="#fff2f2" stroke-width="0.2">2</text><text x="380.75" y="630.00" font-size="5" font-weight="bold" fill="#fff2f2">&#8226;</text><text x="390.55" y="627.40" font-size="6" font-weight="bold" fill="#fff2f2">&#8722;</text></g>
<g><circle cx="401.75" cy="651.25" r="9.65" fill="#c9454a" stroke="#8e2a30" stroke-width="1.4"/><text x="396.75" y="653.85" font-size="10.6" font-weight="bold" fill="#fff2f2" stroke="#fff2f2" stroke-width="0.3" textLength="7.3" lengthAdjust="spacingAndGlyphs">O</text><text x="404.05" y="655.45" font-size="5.9" font-weight="bold" fill="#fff2f2" stroke="#fff2f2" stroke-width="0.2">2</text><text x="394.25" y="649.25" font-size="5" font-weight="bold" fill="#fff2f2">&#8226;</text><text x="404.05" y="646.65" font-size="6" font-weight="bold" fill="#fff2f2">&#8722;</text></g>
<polygon points="415,632.25 429,631.35 441.75,631.25 441.75,633.25 429,633.15" fill="#222"/><polygon points="440.75,627.35 451.25,632.25 440.75,637.15" fill="#222"/>
<circle cx="484.5" cy="632" r="22.9" fill="#cc484b" stroke="#701e24" stroke-width="1.7"/><text x="468.30" y="637.60" font-size="17" font-weight="bold" fill="#fdeeee" stroke="#fdeeee" stroke-width="0.35" textLength="32.4" lengthAdjust="spacingAndGlyphs">H<tspan font-size="8.4" dy="2.3">2</tspan><tspan dy="-2.3">O</tspan><tspan font-size="8.4" dy="2.3">2</tspan></text>
<polygon points="523.75,632.25 537.75,631.35 551.25,631.25 551.25,633.25 537.75,633.15" fill="#222"/><polygon points="550.25,627.35 560.75,632.25 550.25,637.15" fill="#222"/>
<g transform="translate(615.2,636.65) scale(1.03)" stroke-linejoin="round"><ellipse cx="-34.75" cy="-28.50" rx="2.75" ry="4.75" transform="rotate(-15 -34.75 -28.50)" fill="#f8d1d5" stroke="#dcaeb6" stroke-width="1.1"/><ellipse cx="-13.75" cy="-29.00" rx="5.00" ry="4.00" transform="rotate(-8 -13.75 -29.00)" fill="#f8d1d5" stroke="#dcaeb6" stroke-width="1.1"/><ellipse cx="6.25" cy="-33.50" rx="5.62" ry="3.62" transform="rotate(25 6.25 -33.50)" fill="#f8d1d5" stroke="#dcaeb6" stroke-width="1.1"/><ellipse cx="24.12" cy="-26.00" rx="9.12" ry="4.62" transform="rotate(33 24.12 -26.00)" fill="#f8d1d5" stroke="#dcaeb6" stroke-width="1.1"/><ellipse cx="-33.12" cy="-19.00" rx="1.62" ry="1.88" transform="rotate(0 -33.12 -19.00)" fill="#f2c8ce" stroke="#dcaeb6" stroke-width="1.1"/><ellipse cx="18.38" cy="-19.62" rx="1.75" ry="2.62" transform="rotate(-10 18.38 -19.62)" fill="#f2c8ce" stroke="#dcaeb6" stroke-width="1.1"/><ellipse cx="-30.62" cy="-6.88" rx="3.88" ry="3.75" transform="rotate(0 -30.62 -6.88)" fill="#f8d1d5" stroke="#dcaeb6" stroke-width="1.1"/><ellipse cx="6.62" cy="34.00" rx="6.88" ry="4.75" transform="rotate(-5 6.62 34.00)" fill="#f8d1d5" stroke="#dcaeb6" stroke-width="1.1"/><ellipse cx="27.25" cy="21.88" rx="2.38" ry="4.38" transform="rotate(-18 27.25 21.88)" fill="#f8d1d5" stroke="#dcaeb6" stroke-width="1.1"/><path d="M-35.88,8.75 C-35.60,7.23 -34.94,4.94 -33.75,4.00 C-32.56,3.06 -30.42,2.75 -28.75,3.12 C-27.08,3.50 -25.10,5.15 -23.75,6.25 C-22.40,7.35 -20.73,8.40 -20.62,9.75 C-20.52,11.10 -21.98,13.08 -23.12,14.38 C-24.27,15.67 -25.94,17.08 -27.50,17.50 C-29.06,17.92 -31.19,17.60 -32.50,16.88 C-33.81,16.15 -34.81,14.48 -35.38,13.12 C-35.94,11.77 -36.15,10.27 -35.88,8.75 Z" fill="#f8d1d5" stroke="#dcaeb6" stroke-width="1.1"/><path d="M-25.00,26.88 C-24.65,25.52 -23.85,23.27 -22.50,22.50 C-21.15,21.73 -18.65,22.04 -16.88,22.25 C-15.10,22.46 -13.65,23.54 -11.88,23.75 C-10.10,23.96 -7.67,22.98 -6.25,23.50 C-4.83,24.02 -3.69,25.48 -3.38,26.88 C-3.06,28.27 -3.38,30.42 -4.38,31.88 C-5.38,33.33 -7.40,34.85 -9.38,35.62 C-11.35,36.40 -14.17,36.77 -16.25,36.50 C-18.33,36.23 -20.48,34.98 -21.88,34.00 C-23.27,33.02 -24.10,31.81 -24.62,30.62 C-25.15,29.44 -25.35,28.23 -25.00,26.88 Z" fill="#f8d1d5" stroke="#dcaeb6" stroke-width="1.1"/><path d="M16.62,6.88 C16.94,5.83 19.33,5.00 21.25,4.38 C23.17,3.75 26.04,3.33 28.12,3.12 C30.21,2.92 32.40,2.50 33.75,3.12 C35.10,3.75 36.04,5.42 36.25,6.88 C36.46,8.33 35.94,10.52 35.00,11.88 C34.06,13.23 32.29,14.79 30.62,15.00 C28.96,15.21 26.88,13.85 25.00,13.12 C23.12,12.40 20.77,11.67 19.38,10.62 C17.98,9.58 16.31,7.92 16.62,6.88 Z" fill="#f8d1d5" stroke="#dcaeb6" stroke-width="1.1"/><path d="M-30.00,-18.75 C-29.73,-20.00 -29.27,-22.15 -28.12,-23.12 C-26.98,-24.10 -25.00,-24.73 -23.12,-24.62 C-21.25,-24.52 -18.75,-23.02 -16.88,-22.50 C-15.00,-21.98 -13.33,-20.98 -11.88,-21.50 C-10.42,-22.02 -9.58,-24.42 -8.12,-25.62 C-6.67,-26.83 -5.00,-28.44 -3.12,-28.75 C-1.25,-29.06 1.04,-28.23 3.12,-27.50 C5.21,-26.77 7.60,-25.73 9.38,-24.38 C11.15,-23.02 12.60,-21.15 13.75,-19.38 C14.90,-17.60 15.10,-14.44 16.25,-13.75 C17.40,-13.06 18.85,-14.73 20.62,-15.25 C22.40,-15.77 24.79,-17.02 26.88,-16.88 C28.96,-16.73 31.71,-15.83 33.12,-14.38 C34.54,-12.92 35.27,-10.10 35.38,-8.12 C35.48,-6.15 34.96,-3.85 33.75,-2.50 C32.54,-1.15 30.31,-0.31 28.12,0.00 C25.94,0.31 22.81,-0.73 20.62,-0.62 C18.44,-0.52 16.35,-0.31 15.00,0.62 C13.65,1.56 12.60,3.23 12.50,5.00 C12.40,6.77 13.23,9.38 14.38,11.25 C15.52,13.12 18.12,14.38 19.38,16.25 C20.62,18.12 21.88,20.73 21.88,22.50 C21.88,24.27 20.83,25.94 19.38,26.88 C17.92,27.81 15.10,28.44 13.12,28.12 C11.15,27.81 8.96,26.56 7.50,25.00 C6.04,23.44 5.31,20.42 4.38,18.75 C3.44,17.08 3.12,15.21 1.88,15.00 C0.62,14.79 -1.46,16.56 -3.12,17.50 C-4.79,18.44 -6.25,20.21 -8.12,20.62 C-10.00,21.04 -12.71,20.83 -14.38,20.00 C-16.04,19.17 -17.54,17.08 -18.12,15.62 C-18.71,14.17 -18.50,12.60 -17.88,11.25 C-17.25,9.90 -15.38,8.65 -14.38,7.50 C-13.38,6.35 -11.88,5.21 -11.88,4.38 C-11.88,3.54 -13.12,2.50 -14.38,2.50 C-15.62,2.50 -17.81,4.38 -19.38,4.38 C-20.94,4.38 -23.02,3.33 -23.75,2.50 C-24.48,1.67 -24.38,0.52 -23.75,-0.62 C-23.12,-1.77 -20.98,-2.81 -20.00,-4.38 C-19.02,-5.94 -17.67,-8.65 -17.88,-10.00 C-18.08,-11.35 -19.75,-11.98 -21.25,-12.50 C-22.75,-13.02 -25.46,-12.60 -26.88,-13.12 C-28.29,-13.65 -29.23,-14.69 -29.75,-15.62 C-30.27,-16.56 -30.27,-17.50 -30.00,-18.75 Z" fill="#f8d1d5" stroke="#dcaeb6" stroke-width="1.1"/><path d="M-11.88,-12.50 C-11.56,-13.96 -10.83,-15.04 -9.38,-15.62 C-7.92,-16.21 -4.90,-16.52 -3.12,-16.00 C-1.35,-15.48 0.21,-13.81 1.25,-12.50 C2.29,-11.19 2.08,-9.17 3.12,-8.12 C4.17,-7.08 6.35,-7.08 7.50,-6.25 C8.65,-5.42 10.10,-4.06 10.00,-3.12 C9.90,-2.19 8.44,-1.10 6.88,-0.62 C5.31,-0.15 2.29,-0.77 0.62,-0.25 C-1.04,0.27 -1.88,1.94 -3.12,2.50 C-4.38,3.06 -5.83,3.85 -6.88,3.12 C-7.92,2.40 -8.65,-0.21 -9.38,-1.88 C-10.10,-3.54 -10.83,-5.10 -11.25,-6.88 C-11.67,-8.65 -12.19,-11.04 -11.88,-12.50 Z" fill="#f0b1b8"/><ellipse cx="7.25" cy="-12.1" rx="3.5" ry="3.1" fill="#f0b1b8"/><ellipse cx="1.6" cy="9" rx="5.4" ry="3.8" transform="rotate(-18 1.6 9)" fill="#f0b1b8"/><circle cx="-15.00" cy="-28.12" r="0.85" fill="#eeb4bc"/><circle cx="6.25" cy="-33.75" r="0.85" fill="#eeb4bc"/><circle cx="20.00" cy="-28.75" r="0.85" fill="#eeb4bc"/><circle cx="28.12" cy="-7.50" r="0.85" fill="#eeb4bc"/><circle cx="27.50" cy="9.38" r="0.85" fill="#eeb4bc"/><circle cx="13.75" cy="21.00" r="0.85" fill="#eeb4bc"/><circle cx="9.38" cy="33.50" r="0.85" fill="#eeb4bc"/><circle cx="-19.38" cy="27.25" r="0.85" fill="#eeb4bc"/><circle cx="-8.75" cy="26.50" r="0.85" fill="#eeb4bc"/><circle cx="-29.38" cy="8.75" r="0.85" fill="#eeb4bc"/><circle cx="-12.50" cy="16.88" r="0.85" fill="#eeb4bc"/><circle cx="4.38" cy="-21.25" r="0.85" fill="#eeb4bc"/><circle cx="-7.50" cy="-20.00" r="0.85" fill="#eeb4bc"/><circle cx="-14.38" cy="-3.75" r="0.85" fill="#eeb4bc"/><circle cx="16.88" cy="-8.12" r="0.85" fill="#eeb4bc"/><circle cx="8.12" cy="13.12" r="0.85" fill="#eeb4bc"/><circle cx="-26.88" cy="-19.38" r="0.85" fill="#eeb4bc"/><circle cx="-8.75" cy="9.38" r="0.85" fill="#eeb4bc"/></g>
<g><circle cx="651" cy="662.5" r="25.0" fill="#e9c33a" stroke="#7c5a0e" stroke-width="1.8"/><g transform="translate(651,662.5)"><circle cx="-7.8" cy="-2.6" r="3.1" fill="#8a5c06"/><circle cx="7.3" cy="-2.6" r="3.1" fill="#8a5c06"/><rect x="-12" y="6.2" width="24.2" height="7" rx="3.5" fill="#8a5c06"/><path d="M-17,-7.8 Q-9,-9 -7,-15.5" fill="none" stroke="#8a5c06" stroke-width="1.9" stroke-linecap="round"/><path d="M16.6,-7.8 Q9,-9 6.5,-15.5" fill="none" stroke="#8a5c06" stroke-width="1.9" stroke-linecap="round"/></g></g>
<path d="M363.45,662.75 H376.05 M369.75,662.75 V688.75" fill="none" stroke="#2a2a2a" stroke-width="1.7"/>
<path d="M477.95,665 H490.55 M484.25,665 V690.5" fill="none" stroke="#2a2a2a" stroke-width="1.7"/>
<polygon points="329.4,687.5 336.6,687.5 336.6,709.75 343.75,709.75 333,731.25 322.25,709.75 329.4,709.75" fill="#ee1414"/>
<polygon points="443.9,693.75 451.1,693.75 451.1,715.5 458.25,715.5 447.5,737 436.75,715.5 443.9,715.5" fill="#ee1414"/>
<ellipse cx="371" cy="715.4" rx="26.85" ry="23.200000000000003" fill="url(#sod)" stroke="#3b0c58" stroke-width="1.8"/><text x="352.00" y="721.00" font-size="16.3" font-weight="bold" fill="#fbe3fb" textLength="37.60" lengthAdjust="spacingAndGlyphs" stroke="#fbe3fb" stroke-width="0.5">SOD1</text>
<ellipse cx="485.4" cy="717" rx="27.0" ry="22.5" fill="url(#gpx)" stroke="#bf5a22" stroke-width="1.8"/><text x="465.80" y="722.50" font-size="16.3" font-weight="bold" fill="#fdf0c8" textLength="38.00" lengthAdjust="spacingAndGlyphs" stroke="#fdf0c8" stroke-width="0.5">GPX1</text>
<circle cx="935" cy="393.75" r="35.75" fill="#f8cbcd" stroke="#cf9ea4" stroke-width="1"/><circle cx="930.75" cy="396.35" r="16.60" fill="#ecadb0" stroke="#dba0a4" stroke-width="0.8"/>
<text x="893.75" y="452.80" font-size="14.42" font-weight="bold" fill="#0a0a0a" textLength="91.25" lengthAdjust="spacingAndGlyphs" stroke="#0a0a0a" stroke-width="0.25">NORMAL CELL</text>
<polygon points="985,399.5 999,398.6 1011.75,398.5 1011.75,400.5 999,400.4" fill="#222"/><polygon points="1010.75,394.6 1021.25,399.5 1010.75,404.4" fill="#222"/>
<rect x="1031" y="306.2" width="96.75" height="35.9" rx="17.95" ry="17.95" fill="#fbeaf6" stroke="#e3c0d6" stroke-width="2.2"/><text x="1042.50" y="328.75" font-size="14.7" font-weight="bold" fill="#0a0a0a" textLength="73.00" lengthAdjust="spacingAndGlyphs" stroke="#0a0a0a" stroke-width="0.35">BAX/BCL2</text>
<polygon points="996.9,305.6 1004.1,305.6 1004.1,327.9 1011.25,327.9 1000.5,349.4 989.75,327.9 996.9,327.9" fill="#4cae2c"/>
<polygon points="1020.0,305.6 1027.2,305.6 1027.2,327.9 1034.35,327.9 1023.6,349.4 1012.85,327.9 1020.0,327.9" fill="#4cae2c"/>
<path d="M1131.25,323.75 H1301.75 Q1313.75,323.75 1313.75,335.75 V344.5" fill="none" stroke="#262626" stroke-width="1.5"/><polygon points="1307.95,343.5 1319.55,343.5 1313.75,355" fill="#222"/>
<rect x="1077.3" y="353.15" width="1.9" height="20.600000000000023" fill="url(#redup)"/><polygon points="1073.55,355.15 1078.25,345.75 1082.95,355.15" fill="#c63a3c" stroke="#93303a" stroke-width="0.8" stroke-linejoin="round"/>
<g><circle cx="1042.75" cy="374.5" r="9.65" fill="#c9454a" stroke="#8e2a30" stroke-width="1.4"/><text x="1037.75" y="377.10" font-size="10.6" font-weight="bold" fill="#fff2f2" stroke="#fff2f2" stroke-width="0.3" textLength="7.3" lengthAdjust="spacingAndGlyphs">O</text><text x="1045.05" y="378.70" font-size="5.9" font-weight="bold" fill="#fff2f2" stroke="#fff2f2" stroke-width="0.2">2</text><text x="1035.25" y="372.50" font-size="5" font-weight="bold" fill="#fff2f2">&#8226;</text><text x="1045.05" y="369.90" font-size="6" font-weight="bold" fill="#fff2f2">&#8722;</text></g>
<g><circle cx="1073.75" cy="385.5" r="9.65" fill="#c9454a" stroke="#8e2a30" stroke-width="1.4"/><text x="1068.75" y="388.10" font-size="10.6" font-weight="bold" fill="#fff2f2" stroke="#fff2f2" stroke-width="0.3" textLength="7.3" lengthAdjust="spacingAndGlyphs">O</text><text x="1076.05" y="389.70" font-size="5.9" font-weight="bold" fill="#fff2f2" stroke="#fff2f2" stroke-width="0.2">2</text><text x="1066.25" y="383.50" font-size="5" font-weight="bold" fill="#fff2f2">&#8226;</text><text x="1076.05" y="380.90" font-size="6" font-weight="bold" fill="#fff2f2">&#8722;</text></g>
<g><circle cx="1103.75" cy="383" r="9.65" fill="#c9454a" stroke="#8e2a30" stroke-width="1.4"/><text x="1098.75" y="385.60" font-size="10.6" font-weight="bold" fill="#fff2f2" stroke="#fff2f2" stroke-width="0.3" textLength="7.3" lengthAdjust="spacingAndGlyphs">O</text><text x="1106.05" y="387.20" font-size="5.9" font-weight="bold" fill="#fff2f2" stroke="#fff2f2" stroke-width="0.2">2</text><text x="1096.25" y="381.00" font-size="5" font-weight="bold" fill="#fff2f2">&#8226;</text><text x="1106.05" y="378.40" font-size="6" font-weight="bold" fill="#fff2f2">&#8722;</text></g>
<g><circle cx="1052" cy="404.25" r="9.65" fill="#c9454a" stroke="#8e2a30" stroke-width="1.4"/><text x="1047.00" y="406.85" font-size="10.6" font-weight="bold" fill="#fff2f2" stroke="#fff2f2" stroke-width="0.3" textLength="7.3" lengthAdjust="spacingAndGlyphs">O</text><text x="1054.30" y="408.45" font-size="5.9" font-weight="bold" fill="#fff2f2" stroke="#fff2f2" stroke-width="0.2">2</text><text x="1044.50" y="402.25" font-size="5" font-weight="bold" fill="#fff2f2">&#8226;</text><text x="1054.30" y="399.65" font-size="6" font-weight="bold" fill="#fff2f2">&#8722;</text></g>
<g><circle cx="1082.5" cy="409.25" r="9.65" fill="#c9454a" stroke="#8e2a30" stroke-width="1.4"/><text x="1077.50" y="411.85" font-size="10.6" font-weight="bold" fill="#fff2f2" stroke="#fff2f2" stroke-width="0.3" textLength="7.3" lengthAdjust="spacingAndGlyphs">O</text><text x="1084.80" y="413.45" font-size="5.9" font-weight="bold" fill="#fff2f2" stroke="#fff2f2" stroke-width="0.2">2</text><text x="1075.00" y="407.25" font-size="5" font-weight="bold" fill="#fff2f2">&#8226;</text><text x="1084.80" y="404.65" font-size="6" font-weight="bold" fill="#fff2f2">&#8722;</text></g>
<polygon points="1116.25,397.75 1130.25,396.85 1143.0,396.75 1143.0,398.75 1130.25,398.65" fill="#222"/><polygon points="1142.0,392.85 1152.5,397.75 1142.0,402.65" fill="#222"/>
<circle cx="1186" cy="397.75" r="22.9" fill="#cc484b" stroke="#701e24" stroke-width="1.7"/><text x="1169.80" y="403.35" font-size="17" font-weight="bold" fill="#fdeeee" stroke="#fdeeee" stroke-width="0.35" textLength="32.4" lengthAdjust="spacingAndGlyphs">H<tspan font-size="8.4" dy="2.3">2</tspan><tspan dy="-2.3">O</tspan><tspan font-size="8.4" dy="2.3">2</tspan></text>
<polygon points="1225,397.75 1239,396.85 1252.5,396.75 1252.5,398.75 1239,398.65" fill="#222"/><polygon points="1251.5,392.85 1262,397.75 1251.5,402.65" fill="#222"/>
<circle cx="1317.6" cy="397.75" r="35.75" fill="#f8cbcd" stroke="#cf9ea4" stroke-width="1"/><circle cx="1313.35" cy="400.35" r="16.60" fill="#ecadb0" stroke="#dba0a4" stroke-width="0.8"/>
<g><circle cx="1357" cy="430.6" r="25.0" fill="#e9c33a" stroke="#7c5a0e" stroke-width="1.8"/><g transform="translate(1357,430.6)"><circle cx="-7.8" cy="-6.8" r="3.1" fill="#8a6408"/><circle cx="7.8" cy="-6.8" r="3.1" fill="#8a6408"/><path d="M-15.3,3.6 C-11,19.5 11,19.5 15.7,3.6" fill="none" stroke="#8a6408" stroke-width="1.9" stroke-linecap="round"/></g></g>
<path d="M1065.45,428.75 H1078.05 M1071.75,428.75 V454.5" fill="none" stroke="#2a2a2a" stroke-width="1.7"/>
<path d="M1179.7,430.75 H1192.3 M1186,430.75 V456.25" fill="none" stroke="#2a2a2a" stroke-width="1.7"/>
<polygon points="1007.65,496.25 1014.85,496.25 1014.85,474.0 1022.0,474.0 1011.25,452.5 1000.5,474.0 1007.65,474.0" fill="#4cae2c"/>
<polygon points="1030.9,496.25 1038.1,496.25 1038.1,474.0 1045.25,474.0 1034.5,452.5 1023.75,474.0 1030.9,474.0" fill="#4cae2c"/>
<polygon points="1126.4,499.5 1133.6,499.5 1133.6,478.25 1140.75,478.25 1130,456.75 1119.25,478.25 1126.4,478.25" fill="#4cae2c"/>
<polygon points="1149.4,499.5 1156.6,499.5 1156.6,478.25 1163.75,478.25 1153,456.75 1142.25,478.25 1149.4,478.25" fill="#4cae2c"/>
<ellipse cx="1073" cy="481.5" rx="26.700000000000003" ry="23.1" fill="url(#sod)" stroke="#3b0c58" stroke-width="1.8"/><text x="1054.00" y="486.75" font-size="16.3" font-weight="bold" fill="#fbe3fb" textLength="37.60" lengthAdjust="spacingAndGlyphs" stroke="#fbe3fb" stroke-width="0.5">SOD1</text>
<ellipse cx="1187.25" cy="483.5" rx="26.85" ry="22.6" fill="url(#gpx)" stroke="#bf5a22" stroke-width="1.8"/><text x="1167.65" y="488.25" font-size="16.3" font-weight="bold" fill="#fdf0c8" textLength="38.00" lengthAdjust="spacingAndGlyphs" stroke="#fdf0c8" stroke-width="0.5">GPX1</text>
<line x1="882.5" y1="520.75" x2="1370" y2="520.75" stroke="#c9c9c9" stroke-width="1" stroke-dasharray="4 3.5"/>
<g transform="translate(927.5,626.5) scale(1.0)"><path d="M-12.49,-38.00 C-11.88,-38.08 -11.45,-34.61 -10.31,-34.20 C-9.17,-33.79 -6.09,-35.04 -4.34,-35.07 C-2.60,-35.10 0.35,-34.69 2.17,-34.42 C4.00,-34.15 7.39,-33.12 8.69,-33.12 C9.98,-33.12 10.72,-34.65 11.40,-34.42 C12.08,-34.19 12.43,-32.43 13.57,-31.49 C14.71,-30.55 17.95,-28.83 19.54,-27.69 C21.14,-26.55 23.76,-24.18 24.97,-23.34 C26.19,-22.51 27.17,-21.99 28.23,-21.72 C29.29,-21.44 32.19,-21.85 32.57,-21.39 C32.95,-20.93 31.10,-19.55 30.94,-18.46 C30.79,-17.36 31.11,-14.86 31.49,-13.57 C31.87,-12.28 33.05,-10.37 33.66,-9.23 C34.27,-8.09 35.45,-6.49 35.83,-5.43 C36.21,-4.36 36.53,-2.77 36.37,-1.63 C36.22,-0.49 35.05,1.50 34.74,2.71 C34.44,3.93 34.13,5.92 34.20,7.06 C34.28,8.20 34.76,9.98 35.29,10.86 C35.82,11.74 38.15,12.75 38.00,13.36 C37.85,13.96 35.19,14.26 34.20,15.20 C33.21,16.14 31.93,18.64 30.94,20.09 C29.96,21.53 28.36,24.15 27.14,25.52 C25.93,26.88 23.02,28.57 22.26,29.86 C21.50,31.15 22.32,34.14 21.72,34.74 C21.11,35.35 19.28,34.43 17.92,34.20 C16.55,33.97 13.69,33.04 11.94,33.12 C10.20,33.19 7.25,34.29 5.43,34.74 C3.60,35.20 0.74,36.22 -1.09,36.37 C-2.91,36.53 -5.93,35.60 -7.60,35.83 C-9.27,36.06 -11.89,38.23 -13.03,38.00 C-14.17,37.77 -14.83,35.19 -15.74,34.20 C-16.66,33.21 -18.25,31.32 -19.54,30.94 C-20.84,30.56 -24.14,31.94 -24.97,31.49 C-25.81,31.03 -24.91,28.83 -25.52,27.69 C-26.12,26.55 -28.40,24.48 -29.32,23.34 C-30.23,22.20 -30.89,20.38 -32.03,19.54 C-33.17,18.71 -37.08,18.28 -37.46,17.37 C-37.84,16.46 -35.12,14.32 -34.74,13.03 C-34.36,11.74 -34.59,9.59 -34.74,8.14 C-34.90,6.70 -35.83,4.39 -35.83,2.71 C-35.83,1.04 -35.12,-2.13 -34.74,-3.80 C-34.36,-5.47 -33.57,-7.71 -33.12,-9.23 C-32.66,-10.75 -31.79,-13.29 -31.49,-14.66 C-31.18,-16.03 -30.79,-17.86 -30.94,-19.00 C-31.10,-20.14 -32.95,-21.97 -32.57,-22.80 C-32.19,-23.64 -29.45,-24.14 -28.23,-24.97 C-27.01,-25.81 -25.26,-27.79 -23.89,-28.77 C-22.52,-29.76 -19.75,-31.35 -18.46,-32.03 C-17.17,-32.71 -15.49,-32.82 -14.66,-33.66 C-13.82,-34.50 -13.09,-37.93 -12.49,-38.00 Z" fill="#f5a3a7" stroke="#c8747d" stroke-width="1.4" stroke-linejoin="round"/><circle cx="2.17" cy="-28.77" r="0.95" fill="#e0808a"/><circle cx="5.43" cy="-20.63" r="0.95" fill="#e0808a"/><circle cx="21.72" cy="-20.63" r="0.95" fill="#e0808a"/><circle cx="-4.34" cy="-13.36" r="0.95" fill="#e0808a"/><circle cx="-16.29" cy="-9.01" r="0.95" fill="#e0808a"/><circle cx="20.63" cy="-8.14" r="0.95" fill="#e0808a"/><circle cx="-27.14" cy="-4.34" r="0.95" fill="#e0808a"/><circle cx="-11.94" cy="-1.09" r="0.95" fill="#e0808a"/><circle cx="24.97" cy="1.09" r="0.95" fill="#e0808a"/><circle cx="-22.26" cy="8.14" r="0.95" fill="#e0808a"/><circle cx="-13.57" cy="11.94" r="0.95" fill="#e0808a"/><circle cx="24.97" cy="10.86" r="0.95" fill="#e0808a"/><circle cx="-23.89" cy="17.92" r="0.95" fill="#e0808a"/><circle cx="-14.66" cy="20.63" r="0.95" fill="#e0808a"/><circle cx="15.74" cy="21.72" r="0.95" fill="#e0808a"/><circle cx="-1.09" cy="24.43" r="0.95" fill="#e0808a"/><circle cx="-9.77" cy="27.69" r="0.95" fill="#e0808a"/><circle cx="7.60" cy="29.86" r="0.95" fill="#e0808a"/><path d="M-8.14,-5.43 C-7.51,-6.79 -6.97,-7.96 -5.43,-8.69 C-3.89,-9.41 -1.27,-9.59 1.09,-9.77 C3.44,-9.95 6.51,-9.95 8.69,-9.77 C10.86,-9.59 12.49,-9.41 14.12,-8.69 C15.74,-7.96 17.28,-6.79 18.46,-5.43 C19.63,-4.07 20.63,-2.26 21.17,-0.54 C21.72,1.18 21.81,3.08 21.72,4.89 C21.63,6.70 20.99,8.69 20.63,10.31 C20.27,11.94 20.45,13.30 19.54,14.66 C18.64,16.02 16.83,17.64 15.20,18.46 C13.57,19.27 11.31,19.00 9.77,19.54 C8.23,20.09 7.06,21.63 5.97,21.72 C4.89,21.81 4.80,20.54 3.26,20.09 C1.72,19.63 -1.45,19.63 -3.26,19.00 C-5.07,18.37 -6.61,17.55 -7.60,16.29 C-8.60,15.02 -8.78,13.30 -9.23,11.40 C-9.68,9.50 -10.31,6.88 -10.31,4.89 C-10.31,2.90 -9.59,1.18 -9.23,-0.54 C-8.87,-2.26 -8.78,-4.07 -8.14,-5.43 Z" fill="#d17477"/></g>
<text x="884.60" y="685.30" font-size="14.42" font-weight="bold" fill="#0a0a0a" textLength="87.60" lengthAdjust="spacingAndGlyphs" stroke="#0a0a0a" stroke-width="0.25">CANCER CELL</text>
<polygon points="980,635.5 994,634.6 1006.75,634.5 1006.75,636.5 994,636.4" fill="#222"/><polygon points="1005.75,630.6 1016.25,635.5 1005.75,640.4" fill="#222"/>
<rect x="1030.5" y="536.7" width="97.25" height="35.9" rx="17.95" ry="17.95" fill="#fbeaf6" stroke="#e3c0d6" stroke-width="2.2"/><text x="1042.50" y="559.25" font-size="14.7" font-weight="bold" fill="#0a0a0a" textLength="73.00" lengthAdjust="spacingAndGlyphs" stroke="#0a0a0a" stroke-width="0.35">BAX/BCL2</text>
<polygon points="992.15,571.75 999.35,571.75 999.35,549.5 1006.5,549.5 995.75,528 985.0,549.5 992.15,549.5" fill="#ee1414"/>
<polygon points="1015.15,571.75 1022.35,571.75 1022.35,549.5 1029.5,549.5 1018.75,528 1008.0,549.5 1015.15,549.5" fill="#ee1414"/>
<path d="M1131.25,550 H1301.75 Q1313.75,550 1313.75,562 V585.75" fill="none" stroke="#262626" stroke-width="1.5"/><polygon points="1307.95,584.75 1319.55,584.75 1313.75,596.25" fill="#222"/>
<rect x="1072.8" y="584.9" width="1.9" height="18.850000000000023" fill="url(#redup)"/><polygon points="1069.05,586.9 1073.75,577.5 1078.45,586.9" fill="#c63a3c" stroke="#93303a" stroke-width="0.8" stroke-linejoin="round"/>
<g><circle cx="1028.25" cy="611.25" r="9.65" fill="#c9454a" stroke="#8e2a30" stroke-width="1.4"/><text x="1023.25" y="613.85" font-size="10.6" font-weight="bold" fill="#fff2f2" stroke="#fff2f2" stroke-width="0.3" textLength="7.3" lengthAdjust="spacingAndGlyphs">O</text><text x="1030.55" y="615.45" font-size="5.9" font-weight="bold" fill="#fff2f2" stroke="#fff2f2" stroke-width="0.2">2</text><text x="1020.75" y="609.25" font-size="5" font-weight="bold" fill="#fff2f2">&#8226;</text><text x="1030.55" y="606.65" font-size="6" font-weight="bold" fill="#fff2f2">&#8722;</text></g>
<g><circle cx="1049.5" cy="616.25" r="9.65" fill="#c9454a" stroke="#8e2a30" stroke-width="1.4"/><text x="1044.50" y="618.85" font-size="10.6" font-weight="bold" fill="#fff2f2" stroke="#fff2f2" stroke-width="0.3" textLength="7.3" lengthAdjust="spacingAndGlyphs">O</text><text x="1051.80" y="620.45" font-size="5.9" font-weight="bold" fill="#fff2f2" stroke="#fff2f2" stroke-width="0.2">2</text><text x="1042.00" y="614.25" font-size="5" font-weight="bold" fill="#fff2f2">&#8226;</text><text x="1051.80" y="611.65" font-size="6" font-weight="bold" fill="#fff2f2">&#8722;</text></g>
<g><circle cx="1073.75" cy="615.75" r="9.65" fill="#c9454a" stroke="#8e2a30" stroke-width="1.4"/><text x="1068.75" y="618.35" font-size="10.6" font-weight="bold" fill="#fff2f2" stroke="#fff2f2" stroke-width="0.3" textLength="7.3" lengthAdjust="spacingAndGlyphs">O</text><text x="1076.05" y="619.95" font-size="5.9" font-weight="bold" fill="#fff2f2" stroke="#fff2f2" stroke-width="0.2">2</text><text x="1066.25" y="613.75" font-size="5" font-weight="bold" fill="#fff2f2">&#8226;</text><text x="1076.05" y="611.15" font-size="6" font-weight="bold" fill="#fff2f2">&#8722;</text></g>
<g><circle cx="1105.75" cy="622.5" r="9.65" fill="#c9454a" stroke="#8e2a30" stroke-width="1.4"/><text x="1100.75" y="625.10" font-size="10.6" font-weight="bold" fill="#fff2f2" stroke="#fff2f2" stroke-width="0.3" textLength="7.3" lengthAdjust="spacingAndGlyphs">O</text><text x="1108.05" y="626.70" font-size="5.9" font-weight="bold" fill="#fff2f2" stroke="#fff2f2" stroke-width="0.2">2</text><text x="1098.25" y="620.50" font-size="5" font-weight="bold" fill="#fff2f2">&#8226;</text><text x="1108.05" y="617.90" font-size="6" font-weight="bold" fill="#fff2f2">&#8722;</text></g>
<g><circle cx="1037.5" cy="637.5" r="9.65" fill="#c9454a" stroke="#8e2a30" stroke-width="1.4"/><text x="1032.50" y="640.10" font-size="10.6" font-weight="bold" fill="#fff2f2" stroke="#fff2f2" stroke-width="0.3" textLength="7.3" lengthAdjust="spacingAndGlyphs">O</text><text x="1039.80" y="641.70" font-size="5.9" font-weight="bold" fill="#fff2f2" stroke="#fff2f2" stroke-width="0.2">2</text><text x="1030.00" y="635.50" font-size="5" font-weight="bold" fill="#fff2f2">&#8226;</text><text x="1039.80" y="632.90" font-size="6" font-weight="bold" fill="#fff2f2">&#8722;</text></g>
<g><circle cx="1064.5" cy="640" r="9.65" fill="#c9454a" stroke="#8e2a30" stroke-width="1.4"/><text x="1059.50" y="642.60" font-size="10.6" font-weight="bold" fill="#fff2f2" stroke="#fff2f2" stroke-width="0.3" textLength="7.3" lengthAdjust="spacingAndGlyphs">O</text><text x="1066.80" y="644.20" font-size="5.9" font-weight="bold" fill="#fff2f2" stroke="#fff2f2" stroke-width="0.2">2</text><text x="1057.00" y="638.00" font-size="5" font-weight="bold" fill="#fff2f2">&#8226;</text><text x="1066.80" y="635.40" font-size="6" font-weight="bold" fill="#fff2f2">&#8722;</text></g>
<g><circle cx="1090" cy="633.75" r="9.65" fill="#c9454a" stroke="#8e2a30" stroke-width="1.4"/><text x="1085.00" y="636.35" font-size="10.6" font-weight="bold" fill="#fff2f2" stroke="#fff2f2" stroke-width="0.3" textLength="7.3" lengthAdjust="spacingAndGlyphs">O</text><text x="1092.30" y="637.95" font-size="5.9" font-weight="bold" fill="#fff2f2" stroke="#fff2f2" stroke-width="0.2">2</text><text x="1082.50" y="631.75" font-size="5" font-weight="bold" fill="#fff2f2">&#8226;</text><text x="1092.30" y="629.15" font-size="6" font-weight="bold" fill="#fff2f2">&#8722;</text></g>
<g><circle cx="1103.25" cy="653" r="9.65" fill="#c9454a" stroke="#8e2a30" stroke-width="1.4"/><text x="1098.25" y="655.60" font-size="10.6" font-weight="bold" fill="#fff2f2" stroke="#fff2f2" stroke-width="0.3" textLength="7.3" lengthAdjust="spacingAndGlyphs">O</text><text x="1105.55" y="657.20" font-size="5.9" font-weight="bold" fill="#fff2f2" stroke="#fff2f2" stroke-width="0.2">2</text><text x="1095.75" y="651.00" font-size="5" font-weight="bold" fill="#fff2f2">&#8226;</text><text x="1105.55" y="648.40" font-size="6" font-weight="bold" fill="#fff2f2">&#8722;</text></g>
<polygon points="1117,633.75 1131,632.85 1143.0,632.75 1143.0,634.75 1131,634.65" fill="#222"/><polygon points="1142.0,628.85 1152.5,633.75 1142.0,638.65" fill="#222"/>
<circle cx="1186" cy="633.75" r="22.9" fill="#cc484b" stroke="#701e24" stroke-width="1.7"/><text x="1169.80" y="639.35" font-size="17" font-weight="bold" fill="#fdeeee" stroke="#fdeeee" stroke-width="0.35" textLength="32.4" lengthAdjust="spacingAndGlyphs">H<tspan font-size="8.4" dy="2.3">2</tspan><tspan dy="-2.3">O</tspan><tspan font-size="8.4" dy="2.3">2</tspan></text>
<polygon points="1225,633.75 1239,632.85 1252.5,632.75 1252.5,634.75 1239,634.65" fill="#222"/><polygon points="1251.5,628.85 1262,633.75 1251.5,638.65" fill="#222"/>
<g transform="translate(1316.3,638.5) scale(1.03)" stroke-linejoin="round"><ellipse cx="-34.75" cy="-28.50" rx="2.75" ry="4.75" transform="rotate(-15 -34.75 -28.50)" fill="#e9e9e9" stroke="#c3c3c3" stroke-width="1.1"/><ellipse cx="-13.75" cy="-29.00" rx="5.00" ry="4.00" transform="rotate(-8 -13.75 -29.00)" fill="#e9e9e9" stroke="#c3c3c3" stroke-width="1.1"/><ellipse cx="6.25" cy="-33.50" rx="5.62" ry="3.62" transform="rotate(25 6.25 -33.50)" fill="#e9e9e9" stroke="#c3c3c3" stroke-width="1.1"/><ellipse cx="24.12" cy="-26.00" rx="9.12" ry="4.62" transform="rotate(33 24.12 -26.00)" fill="#e9e9e9" stroke="#c3c3c3" stroke-width="1.1"/><ellipse cx="-33.12" cy="-19.00" rx="1.62" ry="1.88" transform="rotate(0 -33.12 -19.00)" fill="#e3e3e3" stroke="#c3c3c3" stroke-width="1.1"/><ellipse cx="18.38" cy="-19.62" rx="1.75" ry="2.62" transform="rotate(-10 18.38 -19.62)" fill="#e3e3e3" stroke="#c3c3c3" stroke-width="1.1"/><ellipse cx="-30.62" cy="-6.88" rx="3.88" ry="3.75" transform="rotate(0 -30.62 -6.88)" fill="#e9e9e9" stroke="#c3c3c3" stroke-width="1.1"/><ellipse cx="6.62" cy="34.00" rx="6.88" ry="4.75" transform="rotate(-5 6.62 34.00)" fill="#e9e9e9" stroke="#c3c3c3" stroke-width="1.1"/><ellipse cx="27.25" cy="21.88" rx="2.38" ry="4.38" transform="rotate(-18 27.25 21.88)" fill="#e9e9e9" stroke="#c3c3c3" stroke-width="1.1"/><path d="M-35.88,8.75 C-35.60,7.23 -34.94,4.94 -33.75,4.00 C-32.56,3.06 -30.42,2.75 -28.75,3.12 C-27.08,3.50 -25.10,5.15 -23.75,6.25 C-22.40,7.35 -20.73,8.40 -20.62,9.75 C-20.52,11.10 -21.98,13.08 -23.12,14.38 C-24.27,15.67 -25.94,17.08 -27.50,17.50 C-29.06,17.92 -31.19,17.60 -32.50,16.88 C-33.81,16.15 -34.81,14.48 -35.38,13.12 C-35.94,11.77 -36.15,10.27 -35.88,8.75 Z" fill="#e9e9e9" stroke="#c3c3c3" stroke-width="1.1"/><path d="M-25.00,26.88 C-24.65,25.52 -23.85,23.27 -22.50,22.50 C-21.15,21.73 -18.65,22.04 -16.88,22.25 C-15.10,22.46 -13.65,23.54 -11.88,23.75 C-10.10,23.96 -7.67,22.98 -6.25,23.50 C-4.83,24.02 -3.69,25.48 -3.38,26.88 C-3.06,28.27 -3.38,30.42 -4.38,31.88 C-5.38,33.33 -7.40,34.85 -9.38,35.62 C-11.35,36.40 -14.17,36.77 -16.25,36.50 C-18.33,36.23 -20.48,34.98 -21.88,34.00 C-23.27,33.02 -24.10,31.81 -24.62,30.62 C-25.15,29.44 -25.35,28.23 -25.00,26.88 Z" fill="#e9e9e9" stroke="#c3c3c3" stroke-width="1.1"/><path d="M16.62,6.88 C16.94,5.83 19.33,5.00 21.25,4.38 C23.17,3.75 26.04,3.33 28.12,3.12 C30.21,2.92 32.40,2.50 33.75,3.12 C35.10,3.75 36.04,5.42 36.25,6.88 C36.46,8.33 35.94,10.52 35.00,11.88 C34.06,13.23 32.29,14.79 30.62,15.00 C28.96,15.21 26.88,13.85 25.00,13.12 C23.12,12.40 20.77,11.67 19.38,10.62 C17.98,9.58 16.31,7.92 16.62,6.88 Z" fill="#e9e9e9" stroke="#c3c3c3" stroke-width="1.1"/><path d="M-30.00,-18.75 C-29.73,-20.00 -29.27,-22.15 -28.12,-23.12 C-26.98,-24.10 -25.00,-24.73 -23.12,-24.62 C-21.25,-24.52 -18.75,-23.02 -16.88,-22.50 C-15.00,-21.98 -13.33,-20.98 -11.88,-21.50 C-10.42,-22.02 -9.58,-24.42 -8.12,-25.62 C-6.67,-26.83 -5.00,-28.44 -3.12,-28.75 C-1.25,-29.06 1.04,-28.23 3.12,-27.50 C5.21,-26.77 7.60,-25.73 9.38,-24.38 C11.15,-23.02 12.60,-21.15 13.75,-19.38 C14.90,-17.60 15.10,-14.44 16.25,-13.75 C17.40,-13.06 18.85,-14.73 20.62,-15.25 C22.40,-15.77 24.79,-17.02 26.88,-16.88 C28.96,-16.73 31.71,-15.83 33.12,-14.38 C34.54,-12.92 35.27,-10.10 35.38,-8.12 C35.48,-6.15 34.96,-3.85 33.75,-2.50 C32.54,-1.15 30.31,-0.31 28.12,0.00 C25.94,0.31 22.81,-0.73 20.62,-0.62 C18.44,-0.52 16.35,-0.31 15.00,0.62 C13.65,1.56 12.60,3.23 12.50,5.00 C12.40,6.77 13.23,9.38 14.38,11.25 C15.52,13.12 18.12,14.38 19.38,16.25 C20.62,18.12 21.88,20.73 21.88,22.50 C21.88,24.27 20.83,25.94 19.38,26.88 C17.92,27.81 15.10,28.44 13.12,28.12 C11.15,27.81 8.96,26.56 7.50,25.00 C6.04,23.44 5.31,20.42 4.38,18.75 C3.44,17.08 3.12,15.21 1.88,15.00 C0.62,14.79 -1.46,16.56 -3.12,17.50 C-4.79,18.44 -6.25,20.21 -8.12,20.62 C-10.00,21.04 -12.71,20.83 -14.38,20.00 C-16.04,19.17 -17.54,17.08 -18.12,15.62 C-18.71,14.17 -18.50,12.60 -17.88,11.25 C-17.25,9.90 -15.38,8.65 -14.38,7.50 C-13.38,6.35 -11.88,5.21 -11.88,4.38 C-11.88,3.54 -13.12,2.50 -14.38,2.50 C-15.62,2.50 -17.81,4.38 -19.38,4.38 C-20.94,4.38 -23.02,3.33 -23.75,2.50 C-24.48,1.67 -24.38,0.52 -23.75,-0.62 C-23.12,-1.77 -20.98,-2.81 -20.00,-4.38 C-19.02,-5.94 -17.67,-8.65 -17.88,-10.00 C-18.08,-11.35 -19.75,-11.98 -21.25,-12.50 C-22.75,-13.02 -25.46,-12.60 -26.88,-13.12 C-28.29,-13.65 -29.23,-14.69 -29.75,-15.62 C-30.27,-16.56 -30.27,-17.50 -30.00,-18.75 Z" fill="#e9e9e9" stroke="#c3c3c3" stroke-width="1.1"/><path d="M-11.88,-12.50 C-11.56,-13.96 -10.83,-15.04 -9.38,-15.62 C-7.92,-16.21 -4.90,-16.52 -3.12,-16.00 C-1.35,-15.48 0.21,-13.81 1.25,-12.50 C2.29,-11.19 2.08,-9.17 3.12,-8.12 C4.17,-7.08 6.35,-7.08 7.50,-6.25 C8.65,-5.42 10.10,-4.06 10.00,-3.12 C9.90,-2.19 8.44,-1.10 6.88,-0.62 C5.31,-0.15 2.29,-0.77 0.62,-0.25 C-1.04,0.27 -1.88,1.94 -3.12,2.50 C-4.38,3.06 -5.83,3.85 -6.88,3.12 C-7.92,2.40 -8.65,-0.21 -9.38,-1.88 C-10.10,-3.54 -10.83,-5.10 -11.25,-6.88 C-11.67,-8.65 -12.19,-11.04 -11.88,-12.50 Z" fill="#cdcdcd"/><ellipse cx="7.25" cy="-12.1" rx="3.5" ry="3.1" fill="#cdcdcd"/><ellipse cx="1.6" cy="9" rx="5.4" ry="3.8" transform="rotate(-18 1.6 9)" fill="#cdcdcd"/><circle cx="-15.00" cy="-28.12" r="0.85" fill="#d6d6d6"/><circle cx="6.25" cy="-33.75" r="0.85" fill="#d6d6d6"/><circle cx="20.00" cy="-28.75" r="0.85" fill="#d6d6d6"/><circle cx="28.12" cy="-7.50" r="0.85" fill="#d6d6d6"/><circle cx="27.50" cy="9.38" r="0.85" fill="#d6d6d6"/><circle cx="13.75" cy="21.00" r="0.85" fill="#d6d6d6"/><circle cx="9.38" cy="33.50" r="0.85" fill="#d6d6d6"/><circle cx="-19.38" cy="27.25" r="0.85" fill="#d6d6d6"/><circle cx="-8.75" cy="26.50" r="0.85" fill="#d6d6d6"/><circle cx="-29.38" cy="8.75" r="0.85" fill="#d6d6d6"/><circle cx="-12.50" cy="16.88" r="0.85" fill="#d6d6d6"/><circle cx="4.38" cy="-21.25" r="0.85" fill="#d6d6d6"/><circle cx="-7.50" cy="-20.00" r="0.85" fill="#d6d6d6"/><circle cx="-14.38" cy="-3.75" r="0.85" fill="#d6d6d6"/><circle cx="16.88" cy="-8.12" r="0.85" fill="#d6d6d6"/><circle cx="8.12" cy="13.12" r="0.85" fill="#d6d6d6"/><circle cx="-26.88" cy="-19.38" r="0.85" fill="#d6d6d6"/><circle cx="-8.75" cy="9.38" r="0.85" fill="#d6d6d6"/></g>
<g><circle cx="1354.5" cy="672.7" r="25.2" fill="url(#sick)" stroke="url(#sickst)" stroke-width="1.8"/><g transform="translate(1354.5,672.7)"><ellipse cx="-8.5" cy="-3.6" rx="3.1" ry="3.6" fill="#5c8222"/><ellipse cx="8.3" cy="-3.6" rx="3.1" ry="3.6" fill="#5c8222"/><path d="M-15.2,-8.2 Q-8,-9.2 -6,-13.6" fill="none" stroke="#5c8222" stroke-width="1.6" stroke-linecap="round"/><path d="M15.2,-8.2 Q8,-9.2 6,-13.6" fill="none" stroke="#5c8222" stroke-width="1.6" stroke-linecap="round"/><path d="M-7.4,12.6 C-7.6,9 -4.5,8 0,8 C4.5,8 7.6,9 7.4,12.6 M-9.8,6.6 L-7.2,9.2 M9.8,6.6 L7.2,9.2" fill="none" stroke="#8a6a12" stroke-width="1.4" stroke-linecap="round"/></g></g>
<path d="M1064.7,664.5 H1077.3 M1071,664.5 V690.5" fill="none" stroke="#2a2a2a" stroke-width="1.7"/>
<path d="M1179.2,666.75 H1191.8 M1185.5,666.75 V692.5" fill="none" stroke="#2a2a2a" stroke-width="1.7"/>
<polygon points="1006.4,692.5 1013.6,692.5 1013.6,714.75 1020.75,714.75 1010,736.25 999.25,714.75 1006.4,714.75" fill="#ee1414"/>
<polygon points="1029.4,692.5 1036.6,692.5 1036.6,714.75 1043.75,714.75 1033,736.25 1022.25,714.75 1029.4,714.75" fill="#ee1414"/>
<polygon points="1120.65,698.75 1127.85,698.75 1127.85,721.0 1135.0,721.0 1124.25,742.5 1113.5,721.0 1120.65,721.0" fill="#ee1414"/>
<polygon points="1143.9,698.75 1151.1,698.75 1151.1,721.0 1158.25,721.0 1147.5,742.5 1136.75,721.0 1143.9,721.0" fill="#ee1414"/>
<ellipse cx="1072.5" cy="717" rx="26.6" ry="23.200000000000003" fill="url(#sod)" stroke="#3b0c58" stroke-width="1.8"/><text x="1053.50" y="722.50" font-size="16.3" font-weight="bold" fill="#fbe3fb" textLength="37.60" lengthAdjust="spacingAndGlyphs" stroke="#fbe3fb" stroke-width="0.5">SOD1</text>
<ellipse cx="1186.75" cy="719" rx="26.85" ry="22.6" fill="url(#gpx)" stroke="#bf5a22" stroke-width="1.8"/><text x="1167.15" y="724.50" font-size="16.3" font-weight="bold" fill="#fdf0c8" textLength="38.00" lengthAdjust="spacingAndGlyphs" stroke="#fdf0c8" stroke-width="0.5">GPX1</text>
<g id="patient"><path d="M55,108 C54.5,120 53.5,135 55,150 C56.5,165 61,175 60.6,183 C60,196 52,208 42,219 C34,228 29,236 31,244 C33,252 41,257 48,256 C54,255 58,250 62.5,246.5" fill="none" stroke="#9cc7d6" stroke-width="1.5"/>
<path d="M62.5,246.5 L67,243.5" stroke="#dcdcdc" stroke-width="2.6" stroke-linecap="round" fill="none"/>
<path d="M86,84 L82,99 C80.5,108 78,118 74,125 C69,132 64,140 62,150 C60,160 61,171 64.5,179 C67,184 67.5,190 67.5,198 L67,232 C67,240 68,245 69.5,249.3 L141.3,249.3 L141.2,226 C141,217 140,209 138.5,201 L137.3,195.5 C142,192.5 146.3,187 146.9,181 C147.3,176 142,168 136,162 C130,155 124,145 117.5,135 C113,128 110.5,121 110.3,114 L112,104 L114,86 Z" fill="#f3f3f3" stroke="#a9a9a9" stroke-width="1"/>
<rect x="66" y="248.6" width="77" height="2.2" fill="#ffffff"/>
<path d="M81,100 C80,110 77,119 73.5,125.5 C69,132 64,140 62.3,150 C60.5,160 61.5,171 65,179 C67,184 67.8,190 67.8,197 C68.5,190 69,184 68.5,178 C66,170 66,160 67.5,152 C70,141 77,132 81,124 C84,116 84,108 84,100 Z" fill="#dedede"/>
<path d="M68,198 L67.4,232 C67.4,240 68.4,245 69.8,248.8 L74,248.8 C71.5,243 71,236 71,230 L71.5,200 Z" fill="#e2e2e2"/>
<path d="M93,133.5 C98,137 102.5,143 104.2,150.5 C105.5,157 103.5,165 102,173 C100,186 98,199 96.5,212 C95,222 93.5,230 94,237 C94.3,242 95,246 96,249" fill="none" stroke="#a4a4a4" stroke-width="1"/>
<path d="M94,237 C94.3,242 95,246 96,249 L102,249 C98.5,245 96,241 94,237 Z" fill="#dcdcdc"/>
<path d="M99,108 C102,116 104,124 106.5,131" fill="none" stroke="#cfcfcf" stroke-width="0.8"/>
<path d="M132,52 C135,56 137,62 137,67.5 C136.6,70 137,72 138,74.5 C139.5,78 142.5,80.5 143.1,83.2 C143.3,85.5 140,86.5 138.3,87.6 C137.6,89 138.5,90 137.6,91.3 C137,92.5 137.8,93.8 137,95 C136.3,96.5 136.5,99 135.6,102 C134.5,106 132,108.3 128,108.2 C122,108 116,106.5 112,104 C108,101 104,96 102,90 L100,60 Z" fill="#efefef" stroke="#a9a9a9" stroke-width="1"/>
<path d="M128.5,72.3 C130.5,73.3 132.5,73.3 134,72.6" fill="none" stroke="#b9b9b9" stroke-width="0.8"/>
<path d="M128,69 C130.5,67.8 133,67.8 135,68.6" fill="none" stroke="#c4c4c4" stroke-width="0.7"/>
<path d="M132.5,93.6 C134.5,94 136,94 137.3,93.6" fill="none" stroke="#b0b0b0" stroke-width="0.8"/>
<path d="M138.1,67 C139.5,63 140.3,59 139.6,56 C138,50 135,45.5 131,42 C126,38 118,34.5 110,32.8 C103,31.5 96,32 90,34 C83,36.5 78,41 75.8,47 C74.5,52 74.6,60 74.8,70 C75,80 74.5,88 76,93 C78,99 84,103 90,105 C92,105.8 94,106.3 95.3,106.3 C96.5,102 96.6,96 96,90 C95.6,86 95,82 95.5,78 L100,66 C103,68 105,72 106.3,76 C107.5,80 108,84 108.7,87.6 C109.5,83 109.8,78 110.5,74 C112,71 114.5,69 117,67.5 C122,65 127,62.5 131,58.5 C132.5,57 133.5,55.5 134,54.5 C135.5,58 137,62.5 138.1,67 Z" fill="#b5b5b5" stroke="#8f8f8f" stroke-width="1" stroke-linejoin="round"/>
<path d="M96.5,68 C98,66.3 101,66.3 103,68 C105,70.5 105,75 104.5,79 C104,83 102.5,85.5 100.5,85.8 C98.5,86 96.5,84 95.5,81 C94.3,77 94.5,71 96.5,68 Z" fill="#f1f1f1" stroke="#9a9a9a" stroke-width="1"/>
<path d="M98.5,71 C100,70 101.5,71 102,73.5 C102.4,76 102,79 101,81.5" fill="none" stroke="#cfcfcf" stroke-width="0.8"/>
<g transform="translate(78.8,245.5) rotate(35)"><rect x="-5.8" y="-2.4" width="11.6" height="4.8" rx="1" fill="#8fc3dc"/><rect x="-1.4" y="-3.6" width="2.8" height="7.2" rx="0.8" fill="#6aa9cb"/></g>
<path d="M69,246 C71,250 73,252.5 75.5,252" fill="none" stroke="#e4e4e4" stroke-width="1.4"/>
<path d="M49,23.2 L69,23.2 C73.5,23.2 76.4,26.5 76.4,31 L76.4,84 C76.4,88 74,90.5 71,91.5 L67.5,93 L65,96 L52.5,96 L50,93 L47,91.5 C44,90.5 41.8,88 41.8,84 L41.8,31 C41.8,26.5 44.5,23.2 49,23.2 Z" fill="#d4e6f1"/>
<path d="M45.5,25 C49,33 69.5,33 73,25 C70,22.8 48.5,22.8 45.5,25 Z" fill="#bcd6e6"/>
<circle cx="59.1" cy="28.8" r="2.5" fill="#ffffff"/>
<path d="M43.8,43.4 L75,43.4 L75,84 C75,87 73,89 70.5,90 L66.5,91.8 L64,94.5 L53.5,94.5 L51,91.8 L47.5,90 C45.5,89 43.8,87 43.8,84 Z" fill="#e9588b"/>
<path d="M43.8,43.4 L75,43.4 L75,46.2 L43.8,46.2 Z" fill="#d8447a"/>
<path d="M43.8,46 L53,46 L53,91 L51,91.8 L47.5,90 C45.5,89 43.8,87 43.8,84 Z" fill="#e44a82"/>
<rect x="66.4" y="38.5" width="3.6" height="34.5" rx="1.8" fill="#f8b4d2"/>
<rect x="53.2" y="93" width="3.6" height="12.5" fill="#e04a80"/>
<rect x="60.4" y="93" width="3.6" height="9.5" fill="#e35a8a"/>
<rect x="60.2" y="101.5" width="4" height="4" rx="1" fill="#e7b7c6"/>
<rect x="53.4" y="104.5" width="3.2" height="5" fill="#2a5d86"/>
<rect x="54" y="109" width="2" height="4" fill="#3a86b8"/>
<polygon points="134.3,178 163.3,100 200,60 260,120 236,177" fill="url(#beam)"/>
<path d="M130,154.5 C132,157.5 134,160 136,162 C142,168 147.3,176 146.9,181 C146.5,185 144,189 141,192.5" fill="none" stroke="#b4a2a2" stroke-width="1"/>
<circle cx="233" cy="105.3" r="68.6" fill="#ffffff"/>
<g clip-path="url(#breastclip)"><path d="M176,50 C181,58 184.5,70 188,84 C191,96 194.5,112 196.5,128 C198.5,142 200,158 201,176 L214,176 C213.5,160 212.5,142 211.5,128 C210.5,112 208,95 205.5,82 C203,70 201,58 198.5,47 C192,42 182,44 176,50 Z" fill="#dca3b3" stroke="#c8919f" stroke-width="0.8"/><path d="M190,50 C194,62 197,78 200,94 C203,110 205,128 206,146 C206.5,158 207,168 207,176 L210,176 C210,166 209.5,150 208.5,134 C207.5,116 205,98 202,82 C199.5,70 197,58 194,48 Z" fill="#cf8fa2" opacity="0.7"/><path d="M182,54 C186,66 190,82 193,98 C196,116 198.5,136 200,154 C200.5,164 201,170 201.2,176 L203.5,176 C203,164 202,148 200.5,132 C199,114 196,96 192.5,80 C190,70 187.5,60 185,52 Z" fill="#e9bdc8" opacity="0.8"/><ellipse cx="185.4" cy="59.5" rx="2.6" ry="4.6" transform="rotate(-14 185.4 59.5)" fill="#ece2cc" stroke="#d9c3b0" stroke-width="0.9"/><ellipse cx="190.2" cy="83.3" rx="4.1" ry="8.2" transform="rotate(-9 190.2 83.3)" fill="#ece2cc" stroke="#d9c3b0" stroke-width="0.9"/><ellipse cx="197.6" cy="111.5" rx="3.6" ry="8.6" transform="rotate(-6 197.6 111.5)" fill="#ece2cc" stroke="#d9c3b0" stroke-width="0.9"/><ellipse cx="203.2" cy="146.5" rx="3.5" ry="9.2" transform="rotate(-4 203.2 146.5)" fill="#ece2cc" stroke="#d9c3b0" stroke-width="0.9"/><path d="M219,30 L240,30 C241.5,40 244,48 247,54 C251,62 257.5,71 264.4,80 C270,87.5 277,94.5 282,100 C285,103.5 287,106.5 286.8,109.5 C286.6,113 285,116 283.8,120 C281,129 277,138.5 270,146.5 C263,154 254,159.3 244,160.3 C237,160.8 231,160.5 227.3,160.5 L227.3,180 L213,180 L213,150 L200,60 Z" fill="#e7d8ce" stroke="#d6c4b8" stroke-width="0.8"/><path d="M198.5,47 C202,42 210,36 218.5,32 C221,38 224.5,44.5 228.5,50 C231.5,54.5 235,58.5 239,62.5 C243,66.5 247,70 251.3,73.8 C256,78 260.5,82 265,86 C269,89.5 273,93.5 276.5,97 C280,100.5 283.5,105.5 285.8,109.6 C284.5,114 283.5,117.5 282.3,120.8 C281,125 279.8,128 278,131.5 C276,136 273.5,139.5 270.2,143 C267,146.5 263,149.5 258.4,151.8 C254,154 249,155.3 244.3,155.7 C239,156 234.5,155.5 230.3,154.8 C226,154.2 222,153.5 217.8,152.8 L218.5,180 L212.3,180 C213,162 212.5,144 211.5,128 C210.5,112 208,95 205.5,82 C203,70 201,58 198.5,47 Z" fill="#fbe6b0" stroke="#e0ba86" stroke-width="0.9"/><path d="M206,60 C212,58 218,62 222,70 C226,78 224,86 218,88 C212,90 209,82 207.5,74 Z" fill="#fdf0c8" opacity="0.8"/><path d="M214,128 C220,140 232,150 246,151 C256,151.5 264,146 270,138 C262,142 250,145 238,143 C228,141 220,135 214,128 Z" fill="#fdf0c8" opacity="0.8"/><ellipse cx="218" cy="79" rx="4.2" ry="7" transform="rotate(-10 218 79)" fill="#f3c47e"/><ellipse cx="224" cy="114.5" rx="7.2" ry="4.6" transform="rotate(-12 224 114.5)" fill="#f3c47e"/><ellipse cx="246.5" cy="112.5" rx="11" ry="5.2" transform="rotate(-6 246.5 112.5)" fill="#f3c47e"/><ellipse cx="226" cy="125.5" rx="7.6" ry="5" transform="rotate(-28 226 125.5)" fill="#f3c47e"/><ellipse cx="238.5" cy="132" rx="11" ry="5.6" transform="rotate(-24 238.5 132)" fill="#f3c47e"/><ellipse cx="254.5" cy="130.5" rx="11" ry="5.4" transform="rotate(-26 254.5 130.5)" fill="#f3c47e"/><ellipse cx="233" cy="121" rx="3.6" ry="2.6" transform="rotate(0 233 121)" fill="#f3c47e"/><ellipse cx="261" cy="117" rx="6.5" ry="3" transform="rotate(-20 261 117)" fill="#f3c47e"/><ellipse cx="222.5" cy="137.5" rx="2.6" ry="2.2" transform="rotate(0 222.5 137.5)" fill="#f3c47e"/><ellipse cx="238.5" cy="141.5" rx="2.2" ry="1.8" transform="rotate(0 238.5 141.5)" fill="#f3c47e"/><ellipse cx="248" cy="100" rx="6" ry="8" transform="rotate(-30 248 100)" fill="#f3c47e"/><ellipse cx="266" cy="123" rx="6" ry="3" transform="rotate(-30 266 123)" fill="#f3c47e"/><ellipse cx="262" cy="110.5" rx="7" ry="2.6" transform="rotate(-8 262 110.5)" fill="#f3c47e"/><ellipse cx="270" cy="116" rx="4" ry="2" transform="rotate(-20 270 116)" fill="#f3c47e"/><ellipse cx="244" cy="122" rx="5" ry="3" transform="rotate(-15 244 122)" fill="#f3c47e"/><path d="M284,110 L262,104 M284,110.5 L258,112 M284,111 L262,119 M284,111 L266,126 M284,110 L268,99" fill="none" stroke="#f1d08f" stroke-width="1"/><path d="M280,103 C283,105.5 286,108 285.8,110.5 C285.5,113 283.5,115 282.5,118 C281.5,115 281,112 281.5,110.5 C281.5,108 281,105.5 280,103 Z" fill="#f0d7a4"/><path d="M232.75,79.50 Q237.79,78.00 241.18,81.88 Q246.28,83.24 246.94,88.27 Q250.47,92.05 248.19,96.63 Q249.03,101.65 244.54,104.32 Q242.43,108.97 237.15,108.89 Q232.75,111.70 228.35,108.89 Q223.07,108.97 220.96,104.32 Q216.47,101.65 217.31,96.63 Q215.03,92.05 218.56,88.27 Q219.22,83.24 224.32,81.88 Q227.71,78.00 232.75,79.50 Z" fill="#bf3b30" stroke="#a02e26" stroke-width="1"/><path d="M222,90 C225,86 230,85 233,88 M236,84 C240,84 243,87 243,91 M226,100 C229,97 234,98 235,102 M238,96 C242,95 245,98 244,102 M230,106 C233,104 237,105 238,108" fill="none" stroke="#b5362a" stroke-width="0.9" opacity="0.8"/></g>
<circle cx="233" cy="105.3" r="68.6" fill="none" stroke="#b8868f" stroke-width="1.6"/></g>
<rect x="16.3" y="368.8" width="142.4" height="127.4" rx="8" ry="8" fill="#ecf2fc" stroke="#d2d9e2" stroke-width="1" stroke-dasharray="3.5 3"/>
<text x="54.50" y="394.25" font-size="19.5" font-weight="bold" fill="#13267f" textLength="56.00" lengthAdjust="spacingAndGlyphs" stroke="#13267f" stroke-width="0.3">TPL-w</text>
<g><path d="M116,432 C121,429 127,426 132.5,423.2" fill="none" stroke="#6a5632" stroke-width="2.8" stroke-linecap="round"/><path d="M141,453.5 C145,453.3 148,453 151,452.4" fill="none" stroke="#6a5632" stroke-width="2.8" stroke-linecap="round"/><path d="M40.8,417.5 C42,414.5 46,415.8 49,415 C56,412 64,410.5 70,412.5 C76,414.5 80,419 82.5,424 C85,429 88,434 88,439 C87,443 82,445 77,444 C70,442 64,437 58,433 C54,430.5 49,430 47,427 C45,424 41,421 40.8,417.5 Z" fill="#b8743a" stroke="#7a4c1e" stroke-width="1.4"/><path d="M78,421.5 C82,415 89,411 96,410.5 C100,410 103,412.5 106,412.5 C108.5,413 108.5,416 107,418.5 C105,424 102,430 97,433.5 C93,436 88,437.5 85,435 C82,431 80,426 78,421.5 Z" fill="#b8743a" stroke="#7a4c1e" stroke-width="1.4"/><path d="M96,434.5 C101,429.5 108,426.5 115,427 C121,427.5 125,431 129,434.5 C132,437 134.5,438.5 133.5,440.5 C131,444 124,446 117,446 C110,446 102,443 96,434.5 Z" fill="#b8743a" stroke="#7a4c1e" stroke-width="1.4"/><path d="M70,431 C76,427.5 83,429.5 86,435 C88.5,440 88,446 84,448.5 C80,447 74,440 70,431 Z" fill="#c5824a" stroke="#7a4c1e" stroke-width="1"/><circle cx="50" cy="419" r="0.55" fill="#8e5526" opacity="0.7"/><circle cx="56" cy="416.5" r="0.55" fill="#8e5526" opacity="0.7"/><circle cx="62" cy="418" r="0.55" fill="#8e5526" opacity="0.7"/><circle cx="68" cy="416" r="0.55" fill="#8e5526" opacity="0.7"/><circle cx="74" cy="419.5" r="0.55" fill="#8e5526" opacity="0.7"/><circle cx="58" cy="423" r="0.55" fill="#8e5526" opacity="0.7"/><circle cx="66" cy="424" r="0.55" fill="#8e5526" opacity="0.7"/><circle cx="72" cy="426" r="0.55" fill="#8e5526" opacity="0.7"/><circle cx="78" cy="428" r="0.55" fill="#8e5526" opacity="0.7"/><circle cx="80" cy="434" r="0.55" fill="#8e5526" opacity="0.7"/><circle cx="86" cy="417" r="0.55" fill="#8e5526" opacity="0.7"/><circle cx="92" cy="415" r="0.55" fill="#8e5526" opacity="0.7"/><circle cx="98" cy="414.5" r="0.55" fill="#8e5526" opacity="0.7"/><circle cx="102" cy="418" r="0.55" fill="#8e5526" opacity="0.7"/><circle cx="90" cy="422" r="0.55" fill="#8e5526" opacity="0.7"/><circle cx="96" cy="424" r="0.55" fill="#8e5526" opacity="0.7"/><circle cx="92" cy="429" r="0.55" fill="#8e5526" opacity="0.7"/><circle cx="104" cy="432" r="0.55" fill="#8e5526" opacity="0.7"/><circle cx="110" cy="431" r="0.55" fill="#8e5526" opacity="0.7"/><circle cx="116" cy="433" r="0.55" fill="#8e5526" opacity="0.7"/><circle cx="122" cy="435" r="0.55" fill="#8e5526" opacity="0.7"/><circle cx="112" cy="438" r="0.55" fill="#8e5526" opacity="0.7"/><circle cx="120" cy="440" r="0.55" fill="#8e5526" opacity="0.7"/><circle cx="106" cy="438" r="0.55" fill="#8e5526" opacity="0.7"/><circle cx="43.8" cy="444.6" r="7.2" fill="#bdd14a" stroke="#5c7814" stroke-width="1.4"/><circle cx="70" cy="442.2" r="8.2" fill="#bdd14a" stroke="#5c7814" stroke-width="1.4"/><ellipse cx="92.5" cy="446" rx="11.3" ry="11.6" fill="#88ac3c" stroke="#4c6a14" stroke-width="1.4"/><ellipse cx="126" cy="448" rx="10.3" ry="8.6" fill="#88ac3c" stroke="#4c6a14" stroke-width="1.4"/><circle cx="56" cy="437.2" r="10.5" fill="#bdd14a" stroke="#5c7814" stroke-width="1.4"/><ellipse cx="56.3" cy="435.8" rx="4.4" ry="4.2" fill="#86a82c"/><path d="M56.3,432.5 V439.5" stroke="#6f9020" stroke-width="1" fill="none"/><circle cx="35.6" cy="456.5" r="10" fill="#bdd14a" stroke="#5c7814" stroke-width="1.4"/><ellipse cx="34.1" cy="454.5" rx="5.5" ry="5.0" fill="#d6e468" opacity="0.55"/><circle cx="33.1" cy="451.2" r="1.3" fill="#6f8f20"/><circle cx="56.2" cy="457.5" r="10.8" fill="#bdd14a" stroke="#5c7814" stroke-width="1.4"/><ellipse cx="54.7" cy="455.5" rx="5.940000000000001" ry="5.4" fill="#d6e468" opacity="0.55"/><circle cx="53.7" cy="452.2" r="1.3" fill="#6f8f20"/><circle cx="78.5" cy="455.6" r="10.6" fill="#bdd14a" stroke="#5c7814" stroke-width="1.4"/><ellipse cx="77.0" cy="453.6" rx="5.83" ry="5.3" fill="#d6e468" opacity="0.55"/><circle cx="76.0" cy="450.3" r="1.3" fill="#6f8f20"/><path d="M95.5,452 C96,445 101,440 108,439.6 C114,439.5 117.5,444 117.5,450 C117.5,456 114,461 109,462.5 C103,463 96,459 95.5,452 Z" fill="#a9c652" stroke="#4c6a14" stroke-width="1.4"/><path d="M99.5,452.5 C100,448 103,444.5 107,444.5 C110.5,444.8 112,448.5 111.6,452.5 C111,456.5 108.5,459 105.5,459 C102,458.8 99.3,456.5 99.5,452.5 Z" fill="#f1e7a4" stroke="#c9b866" stroke-width="0.8"/><ellipse cx="130" cy="463" rx="13.2" ry="13.2" fill="#88ac3c" stroke="#4c6a14" stroke-width="1.5"/><path d="M120,469 C124,474 134,476 140,470 C136,473.5 126,474 120,469 Z" fill="#7ba030"/><circle cx="43.2" cy="470" r="11.2" fill="#bdd14a" stroke="#5c7814" stroke-width="1.5"/><ellipse cx="43.7" cy="469" rx="5" ry="4.6" fill="#82a52a"/><path d="M42.2,466 C44.2,468 44.2,471 42.7,473" stroke="#6a8c1e" stroke-width="0.9" fill="none"/><circle cx="47.2" cy="459.8" r="1.4" fill="#7a5a20"/><circle cx="70.6" cy="468.8" r="11" fill="#bdd14a" stroke="#5c7814" stroke-width="1.5"/><ellipse cx="71.1" cy="467.8" rx="5" ry="4.6" fill="#82a52a"/><path d="M69.6,464.8 C71.6,466.8 71.6,469.8 70.1,471.8" stroke="#6a8c1e" stroke-width="0.9" fill="none"/><circle cx="74.6" cy="458.6" r="1.4" fill="#7a5a20"/><path d="M87.5,470.5 C87,464 93,458.5 101,457.8 C109,457.5 116,462 117.5,469 C118,474 113,479 106,480.5 C98,482 88.5,478 87.5,470.5 Z" fill="#a9c652" stroke="#4c6a14" stroke-width="1.5"/><path d="M91.5,469.5 C91.5,465 96,461.5 101.5,461.3 C107,461.3 112,464.5 113.5,469 C113,473 109,475.5 104,476 C98,476.5 92,474 91.5,469.5 Z" fill="#efe58a" stroke="#c4bc5a" stroke-width="0.8"/><path d="M88.5,474 C92,480 104,482 112,477.5 C105,481.5 93,481 88.5,474 Z" fill="#7b9f2e"/></g>
<path d="M79.45,504.25 h9.6 v10.2 h10.2 v9.6 h-10.2 v10.2 h-9.6 v-10.2 h-10.2 v-9.6 h10.2 Z" fill="#b9b9b9"/>
<g><path d="M73.4,556 L93.8,556 L93.8,563.5 C93.8,566 102.3,568 102.3,573.5 L102.3,617 C102.3,619.8 100,621.6 97.5,621.6 L69.3,621.6 C66.8,621.6 64.5,619.8 64.5,617 L64.5,573.5 C64.5,568 73.4,566 73.4,563.5 Z" fill="#dfe2e5" stroke="#c6cace" stroke-width="0.8"/><path d="M80.5,557 L86.5,557 L86.5,566 C86.5,567.5 90,569 90,571 L78,571 C78,569 80.5,567.5 80.5,566 Z" fill="#f2f3f4" opacity="0.8"/><path d="M65.2,573 L101.6,573 L101.6,616.8 C101.6,619.3 99.6,620.9 97.3,620.9 L69.5,620.9 C67.2,620.9 65.2,619.3 65.2,616.8 Z" fill="#f0a6ac"/><path d="M65.2,573 L101.6,573 L101.6,575.6 L65.2,575.6 Z" fill="#e8939b"/><path d="M65.2,612.3 L101.6,612.3 L101.6,616.8 C101.6,619.3 99.6,620.9 97.3,620.9 L69.5,620.9 C67.2,620.9 65.2,619.3 65.2,616.8 Z" fill="#ea8f97"/><rect x="65.2" y="573" width="3" height="44" fill="#e99aa2" opacity="0.9"/><rect x="67.7" y="577.6" width="33.9" height="34.5" fill="#fdf5ef"/><rect x="100.6" y="590.5" width="1.4" height="5" fill="#4aa88a"/><circle cx="84.4" cy="595.6" r="15.2" fill="#fdf1e2" stroke="#e0a050" stroke-width="2.6"/><circle cx="84.4" cy="595.6" r="14.6" fill="none" stroke="#a5651f" stroke-width="1.5"/><g stroke="#c9a27a" stroke-width="1.7" stroke-linecap="round" fill="none"><path d="M76.8,599.5 L92,605.5"/><path d="M92,599.5 L76.8,605.5"/></g><path d="M84.4,587.6 C88.4,587.6 90.8,590.3 90.8,593.6 C90.8,595.8 89.8,597 88.6,597.8 L88.6,600.6 L80.2,600.6 L80.2,597.8 C79,597 78,595.8 78,593.6 C78,590.3 80.4,587.6 84.4,587.6 Z" fill="#fbf3e6" stroke="#c29a72" stroke-width="0.9"/><circle cx="81.9" cy="594.2" r="1.5" fill="#8a5a2a"/><circle cx="86.9" cy="594.2" r="1.5" fill="#8a5a2a"/><path d="M84.4,596 L83.6,597.6 L85.2,597.6 Z" fill="#8a5a2a"/><path d="M82,600.4 V598.8 M84.4,600.4 V598.8 M86.8,600.4 V598.8" stroke="#a07848" stroke-width="0.6" fill="none"/><rect x="70.8" y="545.2" width="25" height="11.6" rx="2" fill="#e9945d"/><rect x="70.8" y="545.2" width="25" height="3.4" rx="1.6" fill="#f0a777"/><rect x="70.8" y="553.6" width="25" height="3.2" rx="1.2" fill="#dd8650"/></g>
<text x="38.25" y="639.25" font-size="15.45" font-weight="bold" fill="#0a0a0a" textLength="91.75" lengthAdjust="spacingAndGlyphs" stroke="#0a0a0a" stroke-width="0.25">Low-dose PX</text>
<rect x="719.5" y="372.5" width="142.5" height="126.8" rx="8" ry="8" fill="#fdf1e4" stroke="#ead9c6" stroke-width="1" stroke-dasharray="3.5 3"/>
<text x="759.25" y="397.50" font-size="19.5" font-weight="bold" fill="#e5882d" textLength="52.50" lengthAdjust="spacingAndGlyphs" stroke="#e5882d" stroke-width="0.3">TPL-a</text>
<g transform="translate(703.2,3.5)"><path d="M116,432 C121,429 127,426 132.5,423.2" fill="none" stroke="#6a5632" stroke-width="2.8" stroke-linecap="round"/><path d="M141,453.5 C145,453.3 148,453 151,452.4" fill="none" stroke="#6a5632" stroke-width="2.8" stroke-linecap="round"/><path d="M40.8,417.5 C42,414.5 46,415.8 49,415 C56,412 64,410.5 70,412.5 C76,414.5 80,419 82.5,424 C85,429 88,434 88,439 C87,443 82,445 77,444 C70,442 64,437 58,433 C54,430.5 49,430 47,427 C45,424 41,421 40.8,417.5 Z" fill="#b8743a" stroke="#7a4c1e" stroke-width="1.4"/><path d="M78,421.5 C82,415 89,411 96,410.5 C100,410 103,412.5 106,412.5 C108.5,413 108.5,416 107,418.5 C105,424 102,430 97,433.5 C93,436 88,437.5 85,435 C82,431 80,426 78,421.5 Z" fill="#b8743a" stroke="#7a4c1e" stroke-width="1.4"/><path d="M96,434.5 C101,429.5 108,426.5 115,427 C121,427.5 125,431 129,434.5 C132,437 134.5,438.5 133.5,440.5 C131,444 124,446 117,446 C110,446 102,443 96,434.5 Z" fill="#b8743a" stroke="#7a4c1e" stroke-width="1.4"/><path d="M70,431 C76,427.5 83,429.5 86,435 C88.5,440 88,446 84,448.5 C80,447 74,440 70,431 Z" fill="#c5824a" stroke="#7a4c1e" stroke-width="1"/><circle cx="50" cy="419" r="0.55" fill="#8e5526" opacity="0.7"/><circle cx="56" cy="416.5" r="0.55" fill="#8e5526" opacity="0.7"/><circle cx="62" cy="418" r="0.55" fill="#8e5526" opacity="0.7"/><circle cx="68" cy="416" r="0.55" fill="#8e5526" opacity="0.7"/><circle cx="74" cy="419.5" r="0.55" fill="#8e5526" opacity="0.7"/><circle cx="58" cy="423" r="0.55" fill="#8e5526" opacity="0.7"/><circle cx="66" cy="424" r="0.55" fill="#8e5526" opacity="0.7"/><circle cx="72" cy="426" r="0.55" fill="#8e5526" opacity="0.7"/><circle cx="78" cy="428" r="0.55" fill="#8e5526" opacity="0.7"/><circle cx="80" cy="434" r="0.55" fill="#8e5526" opacity="0.7"/><circle cx="86" cy="417" r="0.55" fill="#8e5526" opacity="0.7"/><circle cx="92" cy="415" r="0.55" fill="#8e5526" opacity="0.7"/><circle cx="98" cy="414.5" r="0.55" fill="#8e5526" opacity="0.7"/><circle cx="102" cy="418" r="0.55" fill="#8e5526" opacity="0.7"/><circle cx="90" cy="422" r="0.55" fill="#8e5526" opacity="0.7"/><circle cx="96" cy="424" r="0.55" fill="#8e5526" opacity="0.7"/><circle cx="92" cy="429" r="0.55" fill="#8e5526" opacity="0.7"/><circle cx="104" cy="432" r="0.55" fill="#8e5526" opacity="0.7"/><circle cx="110" cy="431" r="0.55" fill="#8e5526" opacity="0.7"/><circle cx="116" cy="433" r="0.55" fill="#8e5526" opacity="0.7"/><circle cx="122" cy="435" r="0.55" fill="#8e5526" opacity="0.7"/><circle cx="112" cy="438" r="0.55" fill="#8e5526" opacity="0.7"/><circle cx="120" cy="440" r="0.55" fill="#8e5526" opacity="0.7"/><circle cx="106" cy="438" r="0.55" fill="#8e5526" opacity="0.7"/><circle cx="43.8" cy="444.6" r="7.2" fill="#bdd14a" stroke="#5c7814" stroke-width="1.4"/><circle cx="70" cy="442.2" r="8.2" fill="#bdd14a" stroke="#5c7814" stroke-width="1.4"/><ellipse cx="92.5" cy="446" rx="11.3" ry="11.6" fill="#88ac3c" stroke="#4c6a14" stroke-width="1.4"/><ellipse cx="126" cy="448" rx="10.3" ry="8.6" fill="#88ac3c" stroke="#4c6a14" stroke-width="1.4"/><circle cx="56" cy="437.2" r="10.5" fill="#bdd14a" stroke="#5c7814" stroke-width="1.4"/><ellipse cx="56.3" cy="435.8" rx="4.4" ry="4.2" fill="#86a82c"/><path d="M56.3,432.5 V439.5" stroke="#6f9020" stroke-width="1" fill="none"/><circle cx="35.6" cy="456.5" r="10" fill="#bdd14a" stroke="#5c7814" stroke-width="1.4"/><ellipse cx="34.1" cy="454.5" rx="5.5" ry="5.0" fill="#d6e468" opacity="0.55"/><circle cx="33.1" cy="451.2" r="1.3" fill="#6f8f20"/><circle cx="56.2" cy="457.5" r="10.8" fill="#bdd14a" stroke="#5c7814" stroke-width="1.4"/><ellipse cx="54.7" cy="455.5" rx="5.940000000000001" ry="5.4" fill="#d6e468" opacity="0.55"/><circle cx="53.7" cy="452.2" r="1.3" fill="#6f8f20"/><circle cx="78.5" cy="455.6" r="10.6" fill="#bdd14a" stroke="#5c7814" stroke-width="1.4"/><ellipse cx="77.0" cy="453.6" rx="5.83" ry="5.3" fill="#d6e468" opacity="0.55"/><circle cx="76.0" cy="450.3" r="1.3" fill="#6f8f20"/><path d="M95.5,452 C96,445 101,440 108,439.6 C114,439.5 117.5,444 117.5,450 C117.5,456 114,461 109,462.5 C103,463 96,459 95.5,452 Z" fill="#a9c652" stroke="#4c6a14" stroke-width="1.4"/><path d="M99.5,452.5 C100,448 103,444.5 107,444.5 C110.5,444.8 112,448.5 111.6,452.5 C111,456.5 108.5,459 105.5,459 C102,458.8 99.3,456.5 99.5,452.5 Z" fill="#f1e7a4" stroke="#c9b866" stroke-width="0.8"/><ellipse cx="130" cy="463" rx="13.2" ry="13.2" fill="#88ac3c" stroke="#4c6a14" stroke-width="1.5"/><path d="M120,469 C124,474 134,476 140,470 C136,473.5 126,474 120,469 Z" fill="#7ba030"/><circle cx="43.2" cy="470" r="11.2" fill="#bdd14a" stroke="#5c7814" stroke-width="1.5"/><ellipse cx="43.7" cy="469" rx="5" ry="4.6" fill="#82a52a"/><path d="M42.2,466 C44.2,468 44.2,471 42.7,473" stroke="#6a8c1e" stroke-width="0.9" fill="none"/><circle cx="47.2" cy="459.8" r="1.4" fill="#7a5a20"/><circle cx="70.6" cy="468.8" r="11" fill="#bdd14a" stroke="#5c7814" stroke-width="1.5"/><ellipse cx="71.1" cy="467.8" rx="5" ry="4.6" fill="#82a52a"/><path d="M69.6,464.8 C71.6,466.8 71.6,469.8 70.1,471.8" stroke="#6a8c1e" stroke-width="0.9" fill="none"/><circle cx="74.6" cy="458.6" r="1.4" fill="#7a5a20"/><path d="M87.5,470.5 C87,464 93,458.5 101,457.8 C109,457.5 116,462 117.5,469 C118,474 113,479 106,480.5 C98,482 88.5,478 87.5,470.5 Z" fill="#a9c652" stroke="#4c6a14" stroke-width="1.5"/><path d="M91.5,469.5 C91.5,465 96,461.5 101.5,461.3 C107,461.3 112,464.5 113.5,469 C113,473 109,475.5 104,476 C98,476.5 92,474 91.5,469.5 Z" fill="#efe58a" stroke="#c4bc5a" stroke-width="0.8"/><path d="M88.5,474 C92,480 104,482 112,477.5 C105,481.5 93,481 88.5,474 Z" fill="#7b9f2e"/></g>
<path d="M782.7,508 h9.6 v10.2 h10.2 v9.6 h-10.2 v10.2 h-9.6 v-10.2 h-10.2 v-9.6 h10.2 Z" fill="#b9b9b9"/>
<g transform="translate(703.2,3.7)"><path d="M73.4,556 L93.8,556 L93.8,563.5 C93.8,566 102.3,568 102.3,573.5 L102.3,617 C102.3,619.8 100,621.6 97.5,621.6 L69.3,621.6 C66.8,621.6 64.5,619.8 64.5,617 L64.5,573.5 C64.5,568 73.4,566 73.4,563.5 Z" fill="#dfe2e5" stroke="#c6cace" stroke-width="0.8"/><path d="M80.5,557 L86.5,557 L86.5,566 C86.5,567.5 90,569 90,571 L78,571 C78,569 80.5,567.5 80.5,566 Z" fill="#f2f3f4" opacity="0.8"/><path d="M65.2,573 L101.6,573 L101.6,616.8 C101.6,619.3 99.6,620.9 97.3,620.9 L69.5,620.9 C67.2,620.9 65.2,619.3 65.2,616.8 Z" fill="#f0a6ac"/><path d="M65.2,573 L101.6,573 L101.6,575.6 L65.2,575.6 Z" fill="#e8939b"/><path d="M65.2,612.3 L101.6,612.3 L101.6,616.8 C101.6,619.3 99.6,620.9 97.3,620.9 L69.5,620.9 C67.2,620.9 65.2,619.3 65.2,616.8 Z" fill="#ea8f97"/><rect x="65.2" y="573" width="3" height="44" fill="#e99aa2" opacity="0.9"/><rect x="67.7" y="577.6" width="33.9" height="34.5" fill="#fdf5ef"/><rect x="100.6" y="590.5" width="1.4" height="5" fill="#4aa88a"/><circle cx="84.4" cy="595.6" r="15.2" fill="#fdf1e2" stroke="#e0a050" stroke-width="2.6"/><circle cx="84.4" cy="595.6" r="14.6" fill="none" stroke="#a5651f" stroke-width="1.5"/><g stroke="#c9a27a" stroke-width="1.7" stroke-linecap="round" fill="none"><path d="M76.8,599.5 L92,605.5"/><path d="M92,599.5 L76.8,605.5"/></g><path d="M84.4,587.6 C88.4,587.6 90.8,590.3 90.8,593.6 C90.8,595.8 89.8,597 88.6,597.8 L88.6,600.6 L80.2,600.6 L80.2,597.8 C79,597 78,595.8 78,593.6 C78,590.3 80.4,587.6 84.4,587.6 Z" fill="#fbf3e6" stroke="#c29a72" stroke-width="0.9"/><circle cx="81.9" cy="594.2" r="1.5" fill="#8a5a2a"/><circle cx="86.9" cy="594.2" r="1.5" fill="#8a5a2a"/><path d="M84.4,596 L83.6,597.6 L85.2,597.6 Z" fill="#8a5a2a"/><path d="M82,600.4 V598.8 M84.4,600.4 V598.8 M86.8,600.4 V598.8" stroke="#a07848" stroke-width="0.6" fill="none"/><rect x="70.8" y="545.2" width="25" height="11.6" rx="2" fill="#e9945d"/><rect x="70.8" y="545.2" width="25" height="3.4" rx="1.6" fill="#f0a777"/><rect x="70.8" y="553.6" width="25" height="3.2" rx="1.2" fill="#dd8650"/></g>
<text x="741.75" y="643.00" font-size="15.45" font-weight="bold" fill="#0a0a0a" textLength="91.50" lengthAdjust="spacingAndGlyphs" stroke="#0a0a0a" stroke-width="0.25">Low-dose PX</text>
</svg>
</body>
</html>
